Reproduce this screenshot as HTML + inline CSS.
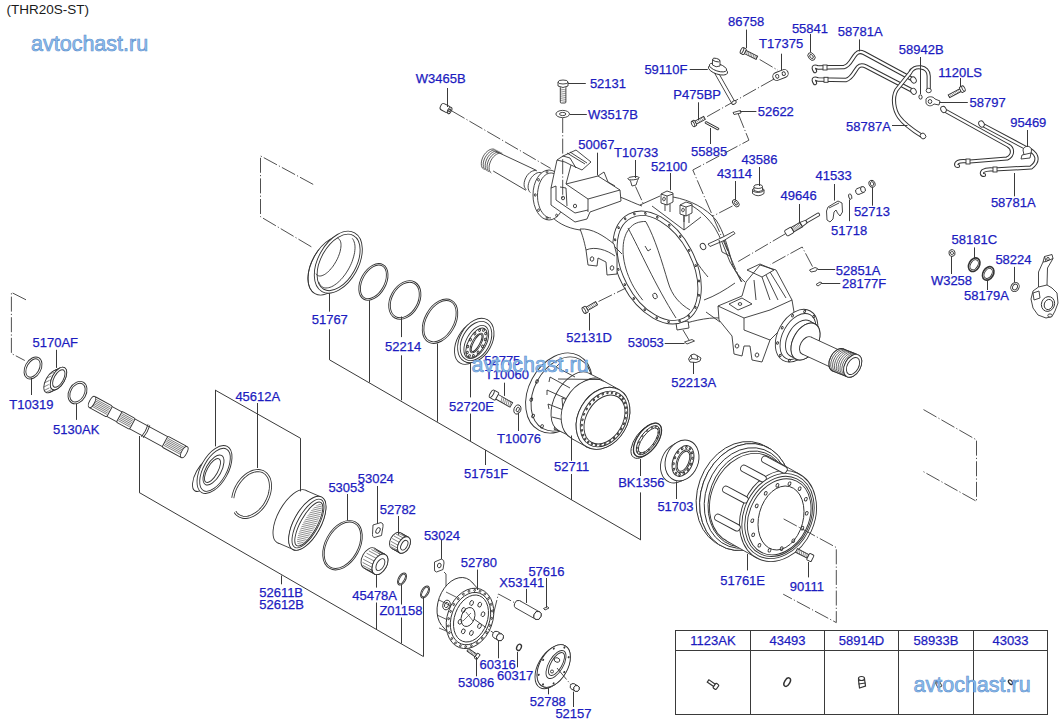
<!DOCTYPE html>
<html><head><meta charset="utf-8"><style>
html,body{margin:0;padding:0;background:#fff;width:1063px;height:727px;overflow:hidden}
svg{display:block}
.t{font-family:"Liberation Sans",sans-serif;font-size:13px;fill:#1c1cc0;stroke:#1c1cc0;stroke-width:0.25px}
.w{font-family:"Liberation Sans",sans-serif;font-size:21.5px;fill:#8fc0ef;stroke:#5a8dcb;stroke-width:0.6px}
.l{stroke:#3a3a3a;stroke-width:1;fill:none}
.k{fill:none}
.kf{fill:#fff}
.d{stroke:#3c3c3c;stroke-width:0.9;fill:none;stroke-dasharray:15 2.2 1.2 2.2}
</style></head><body>
<svg width="1063" height="727" viewBox="0 0 1063 727">
<rect width="1063" height="727" fill="#fff"/>
<text x="6.5" y="14.2" style="font-family:'Liberation Sans',sans-serif;font-size:13.5px;fill:#1a1a1a">(THR20S-ST)</text>

<g stroke="#333" stroke-width="0.9">
<path class="d" d="M451.6,110.8 L550.7,168.4" />
<path class="kf" d="M636,208 C660,192 690,192 705,200 C720,210 728,228 732,250 L738,262 L760,262 L790,300 L800,330 L770,362 L700,330 L680,330 L640,318 Z" stroke="none"/>
<path class="k" d="M640,205 L660,196 M673,197 C690,200 706,208 716,220 C724,232 728,248 733,266" />
<path class="k" d="M689,204 C700,210 709,219 715,228 C721,238 725,250 730,262 L742,282" />
<path class="k" d="M690,251 C696,262 702,270 708,277" />
<path class="k" d="M652,206 L684,230 L701,217" />
<path class="k" d="M684,230 L684,214" />
<path class="kf" d="M661,194 l6,-3 l6,2 l0,9 l-6,3 l-6,-2 Z" />
<path class="k" d="M661,194 l6,2 l6,-2 M667,196 l0,9" />
<ellipse class="k" cx="664.0" cy="199.0" rx="1.28" ry="1.81" transform="rotate(10 664.0 199.0)" />
<path class="k" d="M670,204 l0,8 M665,204 l0,7" />
<path class="kf" d="M680,205 l6,-3 l6,2 l0,9 l-6,3 l-6,-2 Z" />
<path class="k" d="M680,205 l6,2 l6,-2 M686,207 l0,9" />
<ellipse class="k" cx="683.0" cy="210.0" rx="1.28" ry="1.81" transform="rotate(10 683.0 210.0)" />
<path class="k" d="M689,215 l0,8 M684,215 l0,7" />
<path class="k" d="M733,266 C736,272 740,278 745,282" />
<path class="k" d="M704,300 C715,296 725,290 735,283" />
<path class="k" d="M706,312 L720,322" />
<path class="k" d="M676,326 C690,322 705,317 722,318" />
<path class="kf" d="M676,323 L688,321 L689,328 L677,330 Z" />
<ellipse class="kf" cx="657.0" cy="267.5" rx="38.50" ry="60.50" transform="rotate(-28 657.0 267.5)" />
<ellipse class="k" cx="657.5" cy="268.0" rx="34.50" ry="56.50" transform="rotate(-28 657.5 268.0)" />
<ellipse class="k" cx="689.2" cy="250.4" rx="0.70" ry="1.00" transform="rotate(-28 689.2 250.4)"/><ellipse class="k" cx="695.7" cy="265.6" rx="0.70" ry="1.00" transform="rotate(-28 695.7 265.6)"/><ellipse class="k" cx="699.0" cy="281.0" rx="0.70" ry="1.00" transform="rotate(-28 699.0 281.0)"/><ellipse class="k" cx="698.9" cy="295.3" rx="0.70" ry="1.00" transform="rotate(-28 698.9 295.3)"/><ellipse class="k" cx="695.4" cy="307.4" rx="0.70" ry="1.00" transform="rotate(-28 695.4 307.4)"/><ellipse class="k" cx="688.8" cy="316.2" rx="0.70" ry="1.00" transform="rotate(-28 688.8 316.2)"/><ellipse class="k" cx="679.6" cy="321.1" rx="0.70" ry="1.00" transform="rotate(-28 679.6 321.1)"/><ellipse class="k" cx="668.6" cy="321.6" rx="0.70" ry="1.00" transform="rotate(-28 668.6 321.6)"/><ellipse class="k" cx="656.7" cy="317.8" rx="0.70" ry="1.00" transform="rotate(-28 656.7 317.8)"/><ellipse class="k" cx="644.7" cy="309.8" rx="0.70" ry="1.00" transform="rotate(-28 644.7 309.8)"/><ellipse class="k" cx="633.8" cy="298.5" rx="0.70" ry="1.00" transform="rotate(-28 633.8 298.5)"/><ellipse class="k" cx="624.8" cy="284.6" rx="0.70" ry="1.00" transform="rotate(-28 624.8 284.6)"/><ellipse class="k" cx="618.3" cy="269.4" rx="0.70" ry="1.00" transform="rotate(-28 618.3 269.4)"/><ellipse class="k" cx="615.0" cy="254.0" rx="0.70" ry="1.00" transform="rotate(-28 615.0 254.0)"/><ellipse class="k" cx="615.1" cy="239.7" rx="0.70" ry="1.00" transform="rotate(-28 615.1 239.7)"/><ellipse class="k" cx="618.6" cy="227.6" rx="0.70" ry="1.00" transform="rotate(-28 618.6 227.6)"/><ellipse class="k" cx="625.2" cy="218.8" rx="0.70" ry="1.00" transform="rotate(-28 625.2 218.8)"/><ellipse class="k" cx="634.4" cy="213.9" rx="0.70" ry="1.00" transform="rotate(-28 634.4 213.9)"/><ellipse class="k" cx="645.4" cy="213.4" rx="0.70" ry="1.00" transform="rotate(-28 645.4 213.4)"/><ellipse class="k" cx="657.3" cy="217.2" rx="0.70" ry="1.00" transform="rotate(-28 657.3 217.2)"/><ellipse class="k" cx="669.3" cy="225.2" rx="0.70" ry="1.00" transform="rotate(-28 669.3 225.2)"/><ellipse class="k" cx="680.2" cy="236.5" rx="0.70" ry="1.00" transform="rotate(-28 680.2 236.5)"/>
<path class="k" d="M642.8,300.2 L640.4,297.1 L638.1,294.0 L635.9,290.6 L633.8,287.2 L631.9,283.7 L630.2,280.1 L628.6,276.4 L627.2,272.7 L626.0,269.0 L625.0,265.3 L624.2,261.7 L623.6,258.0 L623.2,254.5 L623.0,251.0 L623.1,247.7 L623.3,244.5 L623.7,241.4 L624.4,238.5 L625.3,235.8 L626.3,233.3 L627.6,231.0 L629.0,228.9 L630.6,227.1 L632.4,225.5 L634.3,224.1 L636.4,223.1 L638.6,222.3 L641.0,221.8 L643.4,221.5 L646.0,221.5" />
<path class="k" d="M628,228 C640,250 655,285 676,318" />
<path class="k" d="M646,222 C655,238 662,262 668,282 C672,296 680,304 690,310" />
<ellipse class="k" cx="655.0" cy="296.0" rx="2.09" ry="2.88" transform="rotate(-20 655.0 296.0)" />
<path class="k" d="M645,246 l3,5 l3,-2" />
<path class="k" d="M549,214 C556,222 566,228 580,230 L612,244 L622,254" />
<path class="k" d="M620,197 C628,200 636,204 642,206" />
<path class="kf" d="M580,229 C592,228 604,236 614,244 L617,256 L617,274 L607,275 L606,262 L598,258 L597,266 L588,265 L586,250 C584,240 582,234 580,229 Z" />
<path class="k" d="M586,250 C595,246 607,250 615,256" />
<ellipse class="k" cx="592.0" cy="259.0" rx="1.79" ry="2.21" transform="rotate(10 592.0 259.0)" />
<ellipse class="k" cx="612.0" cy="268.0" rx="1.79" ry="2.21" transform="rotate(10 612.0 268.0)" />
<path class="kf" d="M489,150 L537,171 L548,190 L540,212 L527,192 L492,171 Z" stroke="none"/>
<ellipse class="kf" cx="549.0" cy="195.0" rx="16.00" ry="25.00" transform="rotate(0 549.0 195.0)" />
<path class="k" d="M551.0,218.0 L549.4,217.8 L547.7,217.3 L546.2,216.5 L544.7,215.4 L543.3,213.9 L542.0,212.2 L540.8,210.3 L539.8,208.1 L539.0,205.7 L538.3,203.2 L537.8,200.6 L537.6,197.9 L537.5,195.1 L537.6,192.4 L538.0,189.7 L538.5,187.1 L539.2,184.6 L540.1,182.3 L541.1,180.2 L542.3,178.3 L543.6,176.6 L545.1,175.3 L546.6,174.2 L548.2,173.5 L549.8,173.1 L551.5,173.0 L553.1,173.3 L554.7,173.9 L556.3,174.8 L557.8,176.0" />
<ellipse class="k" cx="547.0" cy="218.2" rx="0.91" ry="1.30" transform="rotate(0 547.0 218.2)"/><ellipse class="k" cx="538.5" cy="210.2" rx="0.91" ry="1.30" transform="rotate(0 538.5 210.2)"/><ellipse class="k" cx="535.2" cy="195.0" rx="0.91" ry="1.30" transform="rotate(0 535.2 195.0)"/><ellipse class="k" cx="538.5" cy="179.8" rx="0.91" ry="1.30" transform="rotate(0 538.5 179.8)"/><ellipse class="k" cx="547.0" cy="171.8" rx="0.91" ry="1.30" transform="rotate(0 547.0 171.8)"/><ellipse class="k" cx="556.6" cy="215.4" rx="0.91" ry="1.30" transform="rotate(0 556.6 215.4)"/>
<path class="k" d="M495.5,151.2 L536.5,170.4 M493.2,171 L526,190.3" />
<path class="k" d="M483.5,169.1 L482.5,168.2 L481.8,166.9 L481.4,165.4 L481.3,163.7 L481.4,161.9 L481.8,160.0 L482.5,158.0 L483.4,156.1 L484.5,154.3 L485.8,152.7 L487.2,151.4 L488.7,150.3 L490.2,149.5 L491.7,149.1 L493.2,149.0 L494.5,149.3 M485.4,170.1 L484.5,169.2 L483.8,167.9 L483.4,166.4 L483.2,164.7 L483.3,162.9 L483.7,161.0 L484.4,159.0 L485.3,157.1 L486.5,155.3 L487.7,153.7 L489.2,152.4 L490.7,151.3 L492.2,150.5 L493.7,150.1 L495.1,150.0 L496.4,150.3 M487.4,171.1 L486.4,170.2 L485.7,168.9 L485.3,167.4 L485.2,165.7 L485.3,163.9 L485.7,162.0 L486.4,160.0 L487.3,158.1 L488.4,156.3 L489.7,154.7 L491.1,153.4 L492.6,152.3 L494.1,151.5 L495.6,151.1 L497.1,151.0 L498.4,151.3 M489.3,172.1 L488.4,171.2 L487.7,169.9 L487.3,168.4 L487.1,166.7 L487.2,164.9 L487.6,163.0 L488.3,161.0 L489.2,159.1 L490.4,157.3 L491.6,155.7 L493.1,154.4 L494.6,153.3 L496.1,152.5 L497.6,152.1 L499.0,152.0 L500.3,152.3 M491.3,173.1 L490.3,172.2 L489.6,170.9 L489.2,169.4 L489.1,167.7 L489.2,165.9 L489.6,164.0 L490.3,162.0 L491.2,160.1 L492.3,158.3 L493.6,156.7 L495.0,155.4 L496.5,154.3 L498.0,153.5 L499.5,153.1 L501.0,153.0 L502.3,153.3" stroke-width="0.8"/>
<path class="k" d="M526.3,189.6 L525.4,188.7 L524.7,187.5 L524.2,186.1 L524.1,184.5 L524.2,182.7 L524.6,180.9 L525.2,179.0 L526.1,177.2 L527.1,175.5 L528.4,174.0 L529.7,172.7 L531.2,171.7 L532.6,171.0 L534.1,170.6 L535.4,170.5 L536.7,170.8" />
<path class="k" d="M530.4,192.6 L529.5,191.7 L528.8,190.4 L528.3,188.9 L528.1,187.2 L528.2,185.3 L528.6,183.4 L529.3,181.4 L530.2,179.5 L531.3,177.7 L532.6,176.1 L534.1,174.8 L535.6,173.7 L537.1,172.9 L538.7,172.5 L540.1,172.5 L541.5,172.8" />
<path class="kf" d="M551,188 L557,160 L563,156 L576,150 L591,162 L582,170 L571,165 L566,184 L598,176 L620,190 L621,201 L590,212 L587,219 L575,222 L551,205 Z" />
<path class="k" d="M566,184 L588,199 L620,190 M588,199 L588,212 M557,160 L565,162 L571,165 M563,156 L570,158 L576,168 M567,153 L585,164 M570,152 L587,163" />
<path class="k" d="M551,188 L556,186 L556,200 L575,213 L588,210" />
<path class="k" d="M560,187 L566,188 L567,206" />
<ellipse class="k" cx="563.0" cy="198.0" rx="1.60" ry="1.80" transform="rotate(0 563.0 198.0)" />
<ellipse class="k" cx="575.0" cy="206.0" rx="1.60" ry="1.80" transform="rotate(0 575.0 206.0)" />
<path class="k" d="M598,176 L604,172 L608,182 L615,186" />
<path class="kf" d="M718,306 L742,296 L746,282 L760,265 L776,270 L792,300 L795,318 L782,328 L770,340 L762,362 L752,360 L750,346 L744,346 L742,356 L734,354 L732,336 L719,320 Z" />
<path class="k" d="M747,270 L760,264 L774,270 L762,277 Z M762,277 L770,300 M766,275 L778,300 M770,272 L786,298 M754,280 L756,300" />
<path class="k" d="M718,306 L744,318 L770,310 L792,300 M744,318 L744,330 L770,340" />
<path class="k" d="M729,304 L742,298 L752,304 L738,310 Z" />
<ellipse class="k" cx="740.0" cy="304.0" rx="1.80" ry="1.40" transform="rotate(0 740.0 304.0)" />
<ellipse class="k" cx="737.0" cy="346.0" rx="1.79" ry="2.01" transform="rotate(10 737.0 346.0)" />
<ellipse class="k" cx="757.0" cy="355.0" rx="1.79" ry="2.01" transform="rotate(10 757.0 355.0)" />
<ellipse class="kf" cx="796.6" cy="335.7" rx="18.66" ry="28.24" transform="rotate(29 796.6 335.7)" />
<ellipse class="k" cx="798.0" cy="336.5" rx="15.27" ry="24.90" transform="rotate(29 798.0 336.5)" />
<ellipse class="k" cx="811.8" cy="344.2" rx="0.91" ry="1.30" transform="rotate(29 811.8 344.2)"/><ellipse class="k" cx="801.4" cy="356.3" rx="0.91" ry="1.30" transform="rotate(29 801.4 356.3)"/><ellipse class="k" cx="789.3" cy="360.6" rx="0.91" ry="1.30" transform="rotate(29 789.3 360.6)"/><ellipse class="k" cx="780.2" cy="355.5" rx="0.91" ry="1.30" transform="rotate(29 780.2 355.5)"/><ellipse class="k" cx="777.5" cy="343.0" rx="0.91" ry="1.30" transform="rotate(29 777.5 343.0)"/><ellipse class="k" cx="782.2" cy="327.8" rx="0.91" ry="1.30" transform="rotate(29 782.2 327.8)"/><ellipse class="k" cx="792.6" cy="315.7" rx="0.91" ry="1.30" transform="rotate(29 792.6 315.7)"/><ellipse class="k" cx="804.7" cy="311.4" rx="0.91" ry="1.30" transform="rotate(29 804.7 311.4)"/><ellipse class="k" cx="813.8" cy="316.5" rx="0.91" ry="1.30" transform="rotate(29 813.8 316.5)"/><ellipse class="k" cx="816.5" cy="329.0" rx="0.91" ry="1.30" transform="rotate(29 816.5 329.0)"/>
<ellipse class="kf" cx="800.0" cy="338.5" rx="12.32" ry="20.02" transform="rotate(29 800.0 338.5)"/><path d="M790.3,356.0 L795.8,359.0 L815.2,324.0 L809.7,321.0 Z" fill="#fff" stroke="none"/><path class="k" d="M790.3,356.0 L795.8,359.0 M815.2,324.0 L809.7,321.0"/><ellipse class="kf" cx="805.5" cy="341.5" rx="12.32" ry="20.02" transform="rotate(29 805.5 341.5)"/>
<ellipse class="kf" cx="805.5" cy="341.5" rx="12.32" ry="20.02" transform="rotate(29 805.5 341.5)" />
<ellipse class="kf" cx="806.5" cy="345.5" rx="6.00" ry="9.60" transform="rotate(29 806.5 345.5)"/><path d="M802.1,354.0 L835.6,369.5 L844.4,352.5 L810.9,337.0 Z" fill="#fff" stroke="none"/><path class="k" d="M802.1,354.0 L835.6,369.5 M844.4,352.5 L810.9,337.0"/><ellipse class="kf" cx="840.0" cy="361.0" rx="6.00" ry="9.60" transform="rotate(29 840.0 361.0)"/>
<ellipse class="kf" cx="838.0" cy="360.0" rx="7.90" ry="12.30" transform="rotate(29 838.0 360.0)"/><path d="M832.7,371.1 L847.4,376.9 L858.0,354.7 L843.3,348.9 Z" fill="#fff" stroke="none"/><path class="k" d="M832.7,371.1 L847.4,376.9 M858.0,354.7 L843.3,348.9"/><ellipse class="kf" cx="852.7" cy="365.8" rx="7.90" ry="12.30" transform="rotate(29 852.7 365.8)"/>
<path class="k" d="M833.3,371.3 L831.7,370.6 L830.5,369.4 L829.5,367.8 L829.0,365.8 L828.9,363.5 L829.2,361.1 L830.0,358.6 L831.1,356.2 L832.5,353.9 L834.3,352.0 L836.1,350.4 L838.1,349.3 L840.1,348.7 L842.0,348.6 L843.7,349.1 L845.1,350.1 M835.2,372.0 L833.6,371.3 L832.3,370.1 L831.4,368.5 L830.8,366.5 L830.7,364.2 L831.1,361.8 L831.8,359.3 L832.9,356.9 L834.4,354.7 L836.1,352.7 L838.0,351.1 L840.0,350.0 L841.9,349.4 L843.8,349.3 L845.5,349.8 L846.9,350.8 M837.0,372.7 L835.4,372.0 L834.2,370.9 L833.2,369.2 L832.7,367.2 L832.6,365.0 L832.9,362.5 L833.7,360.0 L834.8,357.6 L836.2,355.4 L838.0,353.4 L839.8,351.9 L841.8,350.8 L843.8,350.1 L845.7,350.1 L847.4,350.5 L848.8,351.5 M838.9,373.4 L837.3,372.8 L836.0,371.6 L835.1,370.0 L834.5,368.0 L834.4,365.7 L834.8,363.3 L835.5,360.8 L836.6,358.4 L838.1,356.1 L839.8,354.2 L841.7,352.6 L843.7,351.5 L845.6,350.9 L847.5,350.8 L849.2,351.3 L850.6,352.3 M840.7,374.2 L839.1,373.5 L837.9,372.3 L836.9,370.7 L836.4,368.7 L836.3,366.4 L836.6,364.0 L837.4,361.5 L838.5,359.1 L839.9,356.9 L841.7,354.9 L843.5,353.3 L845.5,352.2 L847.5,351.6 L849.4,351.5 L851.1,352.0 L852.5,353.0 M842.6,374.9 L841.0,374.2 L839.7,373.0 L838.8,371.4 L838.2,369.4 L838.1,367.2 L838.5,364.7 L839.2,362.2 L840.3,359.8 L841.8,357.6 L843.5,355.6 L845.4,354.1 L847.4,352.9 L849.3,352.3 L851.2,352.3 L852.9,352.7 L854.3,353.7 M844.4,375.6 L842.8,375.0 L841.6,373.8 L840.6,372.2 L840.1,370.2 L840.0,367.9 L840.3,365.5 L841.1,363.0 L842.2,360.6 L843.6,358.3 L845.4,356.4 L847.2,354.8 L849.2,353.7 L851.2,353.1 L853.1,353.0 L854.8,353.5 L856.2,354.5 M846.3,376.4 L844.7,375.7 L843.4,374.5 L842.5,372.9 L841.9,370.9 L841.8,368.6 L842.2,366.2 L842.9,363.7 L844.0,361.3 L845.5,359.0 L847.2,357.1 L849.1,355.5 L851.1,354.4 L853.0,353.8 L854.9,353.7 L856.6,354.2 L858.0,355.2" stroke-width="0.75"/>
<ellipse class="kf" cx="852.7" cy="365.8" rx="7.90" ry="12.30" transform="rotate(29 852.7 365.8)" />
<ellipse class="k" cx="853.0" cy="366.0" rx="5.60" ry="9.20" transform="rotate(29 853.0 366.0)" /><path class="d" d="M26,299.8 L11.4,292.4 L11.4,353.5 L24.8,360.5" />
<ellipse class="k" cx="33.0" cy="368.0" rx="7.95" ry="11.78" transform="rotate(29 33.0 368.0)" /><ellipse class="k" cx="33.0" cy="368.0" rx="6.11" ry="9.96" transform="rotate(29 33.0 368.0)" />
<ellipse class="kf" cx="52.0" cy="381.5" rx="6.36" ry="12.43" transform="rotate(29 52.0 381.5)"/><path d="M50.3,392.2 L56.8,389.2 L60.2,367.8 L53.7,370.8 Z" fill="#fff" stroke="none"/><path class="k" d="M50.3,392.2 L56.8,389.2 M60.2,367.8 L53.7,370.8"/><ellipse class="kf" cx="58.5" cy="378.5" rx="6.36" ry="12.43" transform="rotate(29 58.5 378.5)"/>
<path class="k" stroke-width="0.6" d="M57.6,384.6l5,-2.5 M54.8,388.5l5,-2.5 M51.7,391.4l5,-2.5 M48.6,392.7l5,-2.5 M46.0,392.4l5,-2.5 M44.3,390.4l5,-2.5 M43.8,387.0l5,-2.5 M44.6,382.8l5,-2.5 M46.4,378.4l5,-2.5 M49.2,374.5l5,-2.5 M52.3,371.6l5,-2.5 M55.4,370.3l5,-2.5 M58.0,370.6l5,-2.5 M59.7,372.6l5,-2.5 M60.2,376.0l5,-2.5 M59.4,380.2l5,-2.5"/>
<ellipse class="kf" cx="58.5" cy="378.5" rx="6.36" ry="12.43" transform="rotate(29 58.5 378.5)" />
<ellipse class="k" cx="58.8" cy="378.5" rx="4.60" ry="9.73" transform="rotate(29 58.8 378.5)" />
<ellipse class="k" cx="77.5" cy="392.6" rx="8.64" ry="11.88" transform="rotate(29 77.5 392.6)" /><ellipse class="k" cx="77.5" cy="392.6" rx="6.81" ry="10.06" transform="rotate(29 77.5 392.6)" />
<g transform="translate(92,402) rotate(28.5)"><rect class="kf" x="0" y="-5.6" width="105" height="11.2" rx="1"/><rect class="kf" x="0" y="-6.2" width="20" height="12.4" rx="1.5"/><path class="k" stroke-width="0.55" d="M1.0,-4.2h18 M1.0,-2.6h18 M1.0,-1.0h18 M1.0,0.6h18 M1.0,2.2h18 M1.0,3.8h18"/><rect class="kf" x="31" y="-6.2" width="15" height="12.4" rx="1.5"/><path class="k" stroke-width="0.55" d="M32.0,-4.2h13 M32.0,-2.6h13 M32.0,-1.0h13 M32.0,0.6h13 M32.0,2.2h13 M32.0,3.8h13"/><rect class="kf" x="83" y="-6.2" width="22" height="12.4" rx="1.5"/><path class="k" stroke-width="0.55" d="M84.0,-4.2h20 M84.0,-2.6h20 M84.0,-1.0h20 M84.0,0.6h20 M84.0,2.2h20 M84.0,3.8h20"/><ellipse class="kf" cx="0" cy="0" rx="2.6" ry="6.2"/><ellipse class="kf" cx="105" cy="0" rx="2.6" ry="6.2"/><path class="k" d="M60,-7 q1.5,7 0,14 M62,-7 q1.5,7 0,14"/></g>
<ellipse class="kf" cx="204.0" cy="475.0" rx="8.38" ry="18.29" transform="rotate(29 204.0 475.0)"/><path d="M201.3,490.2 L208.3,486.2 L213.7,455.8 L206.7,459.8 Z" fill="#fff" stroke="none"/><path class="k" d="M201.3,490.2 L208.3,486.2 M213.7,455.8 L206.7,459.8"/><ellipse class="kf" cx="211.0" cy="471.0" rx="8.38" ry="18.29" transform="rotate(29 211.0 471.0)"/>
<ellipse class="kf" cx="214.5" cy="469.5" rx="13.66" ry="26.38" transform="rotate(29 214.5 469.5)" />
<ellipse class="k" cx="215.0" cy="469.8" rx="11.53" ry="23.74" transform="rotate(29 215.0 469.8)" />
<ellipse class="k" cx="213.5" cy="470.0" rx="7.70" ry="16.61" transform="rotate(29 213.5 470.0)" />
<ellipse class="k" cx="212.5" cy="470.5" rx="5.34" ry="13.40" transform="rotate(29 212.5 470.5)" />
<path class="k" d="M232.8,498.0 L233.2,495.8 L233.7,493.6 L234.4,491.5 L235.2,489.3 L236.2,487.2 L237.3,485.2 L238.6,483.2 L239.9,481.3 L241.4,479.5 L242.9,477.9 L244.5,476.4 L246.2,475.0 L247.9,473.8 L249.7,472.8 L251.4,472.0 L253.2,471.3 L255.0,470.9 L256.7,470.7 L258.4,470.6 L260.0,470.8 L261.5,471.1 L263.0,471.7 L264.3,472.4 L265.6,473.4 L266.7,474.5 L267.7,475.8 L268.6,477.2 L269.3,478.8 L269.8,480.5 L270.2,482.4 L270.4,484.3 L270.5,486.3 L270.4,488.4 L270.1,490.6 L269.7,492.7 L269.1,494.9 L268.4,497.1 L267.5,499.2 L266.5,501.3 L265.4,503.4 L264.1,505.3 L262.7,507.2 L261.2,508.9 L259.7,510.5 L258.0,512.0 L256.4,513.3 L254.6,514.4 L252.9,515.4 L251.1,516.2 L249.3,516.8 L247.6,517.2 L245.9,517.4 L244.2,517.4 L242.6,517.2 L241.1,516.7 L239.7,516.1 L238.3,515.3 L237.1,514.4 L236.0,513.2 L235.1,511.9" stroke-width="3"/>
<path class="k" d="M232.8,498.0 L233.2,495.8 L233.7,493.6 L234.4,491.5 L235.2,489.3 L236.2,487.2 L237.3,485.2 L238.6,483.2 L239.9,481.3 L241.4,479.5 L242.9,477.9 L244.5,476.4 L246.2,475.0 L247.9,473.8 L249.7,472.8 L251.4,472.0 L253.2,471.3 L255.0,470.9 L256.7,470.7 L258.4,470.6 L260.0,470.8 L261.5,471.1 L263.0,471.7 L264.3,472.4 L265.6,473.4 L266.7,474.5 L267.7,475.8 L268.6,477.2 L269.3,478.8 L269.8,480.5 L270.2,482.4 L270.4,484.3 L270.5,486.3 L270.4,488.4 L270.1,490.6 L269.7,492.7 L269.1,494.9 L268.4,497.1 L267.5,499.2 L266.5,501.3 L265.4,503.4 L264.1,505.3 L262.7,507.2 L261.2,508.9 L259.7,510.5 L258.0,512.0 L256.4,513.3 L254.6,514.4 L252.9,515.4 L251.1,516.2 L249.3,516.8 L247.6,517.2 L245.9,517.4 L244.2,517.4 L242.6,517.2 L241.1,516.7 L239.7,516.1 L238.3,515.3 L237.1,514.4 L236.0,513.2 L235.1,511.9" stroke="#fff" stroke-width="1.3"/>
<ellipse class="kf" cx="291.5" cy="516.5" rx="13.25" ry="29.75" transform="rotate(29 291.5 516.5)"/><path d="M277.7,542.8 L293.5,549.6 L321.1,497.0 L305.3,490.2 Z" fill="#fff" stroke="none"/><path class="k" d="M277.7,542.8 L293.5,549.6 M321.1,497.0 L305.3,490.2"/><ellipse class="kf" cx="307.3" cy="523.3" rx="13.25" ry="29.75" transform="rotate(29 307.3 523.3)"/>
<ellipse class="kf" cx="307.3" cy="523.3" rx="13.47" ry="29.95" transform="rotate(29 307.3 523.3)" />
<ellipse class="k" cx="308.0" cy="523.5" rx="10.37" ry="27.18" transform="rotate(29 308.0 523.5)" />
<ellipse class="k" cx="308.8" cy="524.0" rx="8.26" ry="24.73" transform="rotate(29 308.8 524.0)" />
<clipPath id="nb"><ellipse cx="309.5" cy="524.3" rx="6.26" ry="23.18" transform="rotate(29 309.5 524.3)"/></clipPath>
<path class="k" stroke-width="0.55" clip-path="url(#nb)" d="M296.0,499.0 l26,6 M296.0,501.0 l26,6 M296.0,503.0 l26,6 M296.0,505.0 l26,6 M296.0,507.0 l26,6 M296.0,509.0 l26,6 M296.0,511.0 l26,6 M296.0,513.0 l26,6 M296.0,515.0 l26,6 M296.0,517.0 l26,6 M296.0,519.0 l26,6 M296.0,521.0 l26,6 M296.0,523.0 l26,6 M296.0,525.0 l26,6 M296.0,527.0 l26,6 M296.0,529.0 l26,6 M296.0,531.0 l26,6 M296.0,533.0 l26,6 M296.0,535.0 l26,6 M296.0,537.0 l26,6 M296.0,539.0 l26,6 M296.0,541.0 l26,6 M296.0,543.0 l26,6"/>
<ellipse class="k" cx="342.5" cy="545.2" rx="17.19" ry="26.59" transform="rotate(29 342.5 545.2)" /><ellipse class="k" cx="342.5" cy="545.2" rx="15.64" ry="25.07" transform="rotate(29 342.5 545.2)" />
<path class="kf" d="M373,525 l8,-2.5 q3,1 2,4 l-1.5,9 l-7.5,2 q-2,-1 -1.5,-3 z" />
<ellipse class="k" cx="378.0" cy="530.5" rx="1.87" ry="3.03" transform="rotate(29 378.0 530.5)" />
<ellipse class="kf" cx="396.0" cy="540.5" rx="5.52" ry="8.98" transform="rotate(29 396.0 540.5)"/><path d="M391.6,548.4 L399.6,552.9 L408.4,537.1 L400.4,532.6 Z" fill="#fff" stroke="none"/><path class="k" d="M391.6,548.4 L399.6,552.9 M408.4,537.1 L400.4,532.6"/><ellipse class="kf" cx="404.0" cy="545.0" rx="5.52" ry="8.98" transform="rotate(29 404.0 545.0)"/>
<path class="k" stroke-width="0.6" d="M408.8,547.7l-7,-3.8 M407.0,550.2l-7,-3.8 M404.9,552.1l-7,-3.8 M402.6,553.1l-7,-3.8 M400.5,553.2l-7,-3.8 M398.9,552.3l-7,-3.8 M397.8,550.5l-7,-3.8 M397.5,548.0l-7,-3.8 M398.0,545.2l-7,-3.8 M399.2,542.3l-7,-3.8 M401.0,539.8l-7,-3.8 M403.1,537.9l-7,-3.8 M405.4,536.9l-7,-3.8 M407.5,536.8l-7,-3.8 M409.1,537.7l-7,-3.8 M410.2,539.5l-7,-3.8 M410.5,542.0l-7,-3.8 M410.0,544.8l-7,-3.8"/>
<ellipse class="kf" cx="404.0" cy="545.0" rx="5.52" ry="8.98" transform="rotate(29 404.0 545.0)" />
<ellipse class="k" cx="404.3" cy="545.2" rx="2.91" ry="5.25" transform="rotate(29 404.3 545.2)" />
<ellipse class="kf" cx="369.0" cy="558.0" rx="6.73" ry="11.17" transform="rotate(29 369.0 558.0)"/><path d="M363.6,567.8 L374.6,574.1 L385.4,554.5 L374.4,548.2 Z" fill="#fff" stroke="none"/><path class="k" d="M363.6,567.8 L374.6,574.1 M385.4,554.5 L374.4,548.2"/><ellipse class="kf" cx="380.0" cy="564.3" rx="6.73" ry="11.17" transform="rotate(29 380.0 564.3)"/>
<path class="k" stroke-width="0.6" d="M385.9,567.6l-9.5,-5 M383.9,570.4l-9.5,-5 M381.6,572.7l-9.5,-5 M379.1,574.1l-9.5,-5 M376.7,574.6l-9.5,-5 M374.6,574.1l-9.5,-5 M373.0,572.6l-9.5,-5 M372.2,570.3l-9.5,-5 M372.1,567.4l-9.5,-5 M372.7,564.2l-9.5,-5 M374.1,561.0l-9.5,-5 M376.1,558.2l-9.5,-5 M378.4,555.9l-9.5,-5 M380.9,554.5l-9.5,-5 M383.3,554.0l-9.5,-5 M385.4,554.5l-9.5,-5 M387.0,556.0l-9.5,-5 M387.8,558.3l-9.5,-5 M387.9,561.2l-9.5,-5 M387.3,564.4l-9.5,-5"/>
<ellipse class="kf" cx="380.0" cy="564.3" rx="6.73" ry="11.17" transform="rotate(29 380.0 564.3)" />
<ellipse class="k" cx="380.4" cy="564.6" rx="3.64" ry="6.56" transform="rotate(29 380.4 564.6)" />
<ellipse class="k" cx="402.0" cy="579.0" rx="3.64" ry="6.56" transform="rotate(29 402.0 579.0)" /><ellipse class="k" cx="402.0" cy="579.0" rx="2.35" ry="5.33" transform="rotate(29 402.0 579.0)" />
<ellipse class="k" cx="425.0" cy="592.0" rx="3.64" ry="6.56" transform="rotate(29 425.0 592.0)" /><ellipse class="k" cx="425.0" cy="592.0" rx="2.35" ry="5.33" transform="rotate(29 425.0 592.0)" /><path class="d" d="M313.2,184.4 L260.5,155.9 L260.5,216.7 L312.7,247.6" />
<ellipse class="kf" cx="330.5" cy="265.5" rx="18.57" ry="32.12" transform="rotate(29 330.5 265.5)"/><path d="M327.4,293.5 L335.2,290.2 L341.4,234.2 L333.6,237.5 Z" fill="#fff" stroke="none"/><path class="k" d="M327.4,293.5 L335.2,290.2 M341.4,234.2 L333.6,237.5"/><ellipse class="kf" cx="338.3" cy="262.2" rx="18.57" ry="32.12" transform="rotate(29 338.3 262.2)"/>
<ellipse class="kf" cx="338.3" cy="262.2" rx="20.13" ry="33.64" transform="rotate(29 338.3 262.2)" />
<ellipse class="k" cx="338.6" cy="262.4" rx="17.74" ry="30.71" transform="rotate(29 338.6 262.4)" />
<path class="k" d="M337.5,238.2 L338.2,238.5 L338.9,239.0 L339.5,239.6 L340.0,240.3 L340.4,241.2 L340.7,242.1 L340.9,243.2 L341.0,244.4 L341.0,245.7 L340.9,247.1 L340.7,248.5 L340.4,250.0 L340.1,251.6 L339.6,253.2 L339.0,254.9 L338.4,256.5 L337.7,258.2 L336.9,259.8 L336.0,261.4 L335.1,263.0 L334.1,264.6 L333.1,266.1 L332.0,267.5 L330.9,268.8 L329.8,270.1 L328.7,271.2 L327.6,272.3 L326.4,273.2 L325.3,274.0 L324.2,274.7 L323.1,275.2 L322.1,275.6 L321.1,275.9 L320.2,276.0 L319.3,276.0 L318.5,275.8 L317.8,275.5 L317.1,275.0 L316.5,274.4 L316.0,273.7" />
<path class="k" d="M352.3,238.4 L353.1,239.5 L353.7,240.7 L354.2,242.0 L354.6,243.5 L354.9,245.1 L355.0,246.8 L355.0,248.7 L354.8,250.6 L354.6,252.7 L354.1,254.8 L353.6,256.9 L352.9,259.1 L352.2,261.3 L351.3,263.5 L350.3,265.7 L349.2,267.9 L348.0,270.0 L346.7,272.1 L345.4,274.1 L343.9,276.0 L342.5,277.8 L341.0,279.5 L339.4,281.1 L337.9,282.5 L336.3,283.8 L334.7,284.9 L333.2,285.9 L331.6,286.7 L330.1,287.3 L328.7,287.7 L327.3,287.9 L325.9,288.0 L324.7,287.9 L323.5,287.5 L322.5,287.0 L321.5,286.3 L320.6,285.5 L319.9,284.4 L319.2,283.2 L318.7,281.9" />
<path class="k" d="M313.6,292.7 L312.3,291.6 L311.3,290.3 L310.3,288.8 L309.5,287.2 L308.9,285.3 L308.4,283.3 L308.1,281.2 L308.0,279.0 L308.0,276.7 L308.3,274.2 L308.6,271.8 L309.2,269.2 L309.9,266.6 L310.8,264.1 L311.8,261.5 L313.0,259.0 L314.3,256.5 L315.7,254.1 L317.2,251.8 L318.8,249.5" />
<ellipse class="k" cx="373.4" cy="281.9" rx="12.55" ry="19.85" transform="rotate(29 373.4 281.9)" /><ellipse class="k" cx="373.4" cy="281.9" rx="10.90" ry="18.23" transform="rotate(29 373.4 281.9)" />
<ellipse class="k" cx="404.8" cy="300.0" rx="14.46" ry="20.56" transform="rotate(29 404.8 300.0)" /><ellipse class="k" cx="404.8" cy="300.0" rx="12.83" ry="18.95" transform="rotate(29 404.8 300.0)" />
<ellipse class="k" cx="440.0" cy="321.2" rx="15.37" ry="23.91" transform="rotate(29 440.0 321.2)" /><ellipse class="k" cx="440.0" cy="321.2" rx="13.72" ry="22.29" transform="rotate(29 440.0 321.2)" />
<ellipse class="kf" cx="471.5" cy="342.8" rx="14.57" ry="23.22" transform="rotate(29 471.5 342.8)"/><path d="M472.3,362.3 L476.6,360.0 L475.0,321.0 L470.7,323.3 Z" fill="#fff" stroke="none"/><path class="k" d="M472.3,362.3 L476.6,360.0 M475.0,321.0 L470.7,323.3"/><ellipse class="kf" cx="475.8" cy="340.5" rx="14.57" ry="23.22" transform="rotate(29 475.8 340.5)"/>
<ellipse class="kf" cx="475.8" cy="340.5" rx="16.11" ry="23.76" transform="rotate(29 475.8 340.5)" />
<ellipse class="k" cx="476.0" cy="341.0" rx="13.78" ry="21.07" transform="rotate(29 476.0 341.0)" />
<ellipse class="k" cx="476.3" cy="342.0" rx="9.99" ry="18.15" transform="rotate(29 476.3 342.0)" />
<ellipse class="k" cx="476.5" cy="343.0" rx="8.09" ry="16.55" transform="rotate(29 476.5 343.0)" />
<ellipse class="k" cx="482.5" cy="346.3" rx="0.91" ry="1.30" transform="rotate(29 482.5 346.3)"/><ellipse class="k" cx="478.1" cy="352.3" rx="0.91" ry="1.30" transform="rotate(29 478.1 352.3)"/><ellipse class="k" cx="473.3" cy="355.8" rx="0.91" ry="1.30" transform="rotate(29 473.3 355.8)"/><ellipse class="k" cx="469.4" cy="355.9" rx="0.91" ry="1.30" transform="rotate(29 469.4 355.9)"/><ellipse class="k" cx="467.3" cy="352.5" rx="0.91" ry="1.30" transform="rotate(29 467.3 352.5)"/><ellipse class="k" cx="467.8" cy="346.6" rx="0.91" ry="1.30" transform="rotate(29 467.8 346.6)"/><ellipse class="k" cx="470.5" cy="339.7" rx="0.91" ry="1.30" transform="rotate(29 470.5 339.7)"/><ellipse class="k" cx="474.9" cy="333.7" rx="0.91" ry="1.30" transform="rotate(29 474.9 333.7)"/><ellipse class="k" cx="479.7" cy="330.2" rx="0.91" ry="1.30" transform="rotate(29 479.7 330.2)"/><ellipse class="k" cx="483.6" cy="330.1" rx="0.91" ry="1.30" transform="rotate(29 483.6 330.1)"/><ellipse class="k" cx="485.7" cy="333.5" rx="0.91" ry="1.30" transform="rotate(29 485.7 333.5)"/><ellipse class="k" cx="485.2" cy="339.4" rx="0.91" ry="1.30" transform="rotate(29 485.2 339.4)"/>
<ellipse class="k" cx="476.6" cy="343.0" rx="4.41" ry="11.05" transform="rotate(29 476.6 343.0)" />
<ellipse class="k" cx="476.6" cy="343.0" rx="3.05" ry="9.69" transform="rotate(29 476.6 343.0)" />
<g transform="translate(494,395) rotate(30)"><rect class="kf" x="3" y="-2.6" width="17" height="5.2"/><path class="k" stroke-width="0.5" d="M8,-2.6 l1.5,5.2 M10,-2.6 l1.5,5.2 M12,-2.6 l1.5,5.2 M14,-2.6 l1.5,5.2 M16,-2.6 l1.5,5.2 M18,-2.6 l1.5,5.2"/><rect class="kf" x="-2.5" y="-4.3" width="6" height="8.6" rx="1.2"/><ellipse class="kf" cx="-2.5" cy="0" rx="1.6" ry="4.3"/></g>
<ellipse class="kf" cx="517.4" cy="409.5" rx="3.42" ry="4.73" transform="rotate(20 517.4 409.5)" />
<ellipse class="k" cx="517.8" cy="409.5" rx="1.46" ry="2.39" transform="rotate(20 517.8 409.5)" />
<ellipse class="kf" cx="559.0" cy="393.0" rx="30.41" ry="42.32" transform="rotate(28 559.0 393.0)" />
<ellipse class="k" cx="561.5" cy="394.0" rx="27.52" ry="39.27" transform="rotate(28 561.5 394.0)" />
<ellipse class="k" cx="555.6" cy="428.0" rx="1.26" ry="1.80" transform="rotate(28 555.6 428.0)"/><ellipse class="k" cx="542.0" cy="426.4" rx="1.26" ry="1.80" transform="rotate(28 542.0 426.4)"/><ellipse class="k" cx="533.1" cy="416.0" rx="1.26" ry="1.80" transform="rotate(28 533.1 416.0)"/><ellipse class="k" cx="531.3" cy="399.6" rx="1.26" ry="1.80" transform="rotate(28 531.3 399.6)"/><ellipse class="k" cx="537.0" cy="381.5" rx="1.26" ry="1.80" transform="rotate(28 537.0 381.5)"/><ellipse class="k" cx="582.0" cy="405.5" rx="1.26" ry="1.80" transform="rotate(28 582.0 405.5)"/><ellipse class="k" cx="570.2" cy="420.3" rx="1.26" ry="1.80" transform="rotate(28 570.2 420.3)"/>
<ellipse class="kf" cx="574.0" cy="402.0" rx="19.56" ry="32.35" transform="rotate(28 574.0 402.0)"/><path d="M559.1,430.7 L571.1,436.7 L600.9,379.3 L588.9,373.3 Z" fill="#fff" stroke="none"/><path class="k" d="M559.1,430.7 L571.1,436.7 M600.9,379.3 L588.9,373.3"/><ellipse class="kf" cx="586.0" cy="408.0" rx="19.56" ry="32.35" transform="rotate(28 586.0 408.0)"/>
<path class="k" d="M556,367 L575,377 M550,377 L570,388 M547,390 L567,399 M548,404 L566,411 M552,417 L568,421" />
<path class="k" d="M553,371 L556,367 L560,363 M549,382 L550,377 M547,395 L547,390 M549,409 L548,404" />
<path class="k" d="M562,398 L580,405 L581,416 L563,411 Z" />
<ellipse class="kf" cx="588.0" cy="410.0" rx="24.60" ry="32.86" transform="rotate(30 588.0 410.0)"/><path d="M571.9,438.7 L586.9,447.0 L619.1,389.6 L604.1,381.3 Z" fill="#fff" stroke="none"/><path class="k" d="M571.9,438.7 L586.9,447.0 M619.1,389.6 L604.1,381.3"/><ellipse class="kf" cx="603.0" cy="418.3" rx="24.60" ry="32.86" transform="rotate(30 603.0 418.3)"/>
<ellipse class="kf" cx="603.0" cy="418.3" rx="24.60" ry="32.86" transform="rotate(30 603.0 418.3)" />
<ellipse class="k" cx="604.0" cy="419.0" rx="21.52" ry="29.60" transform="rotate(30 604.0 419.0)" />
<ellipse class="k" cx="621.3" cy="429.0" rx="0.66" ry="0.95" transform="rotate(30 621.3 429.0)"/><ellipse class="k" cx="618.0" cy="433.8" rx="0.66" ry="0.95" transform="rotate(30 618.0 433.8)"/><ellipse class="k" cx="614.1" cy="438.0" rx="0.66" ry="0.95" transform="rotate(30 614.1 438.0)"/><ellipse class="k" cx="609.8" cy="441.4" rx="0.66" ry="0.95" transform="rotate(30 609.8 441.4)"/><ellipse class="k" cx="605.2" cy="443.8" rx="0.66" ry="0.95" transform="rotate(30 605.2 443.8)"/><ellipse class="k" cx="600.5" cy="445.1" rx="0.66" ry="0.95" transform="rotate(30 600.5 445.1)"/><ellipse class="k" cx="596.0" cy="445.2" rx="0.66" ry="0.95" transform="rotate(30 596.0 445.2)"/><ellipse class="k" cx="591.8" cy="444.2" rx="0.66" ry="0.95" transform="rotate(30 591.8 444.2)"/><ellipse class="k" cx="588.2" cy="442.1" rx="0.66" ry="0.95" transform="rotate(30 588.2 442.1)"/><ellipse class="k" cx="585.3" cy="439.0" rx="0.66" ry="0.95" transform="rotate(30 585.3 439.0)"/><ellipse class="k" cx="583.2" cy="435.1" rx="0.66" ry="0.95" transform="rotate(30 583.2 435.1)"/><ellipse class="k" cx="582.0" cy="430.4" rx="0.66" ry="0.95" transform="rotate(30 582.0 430.4)"/><ellipse class="k" cx="581.7" cy="425.2" rx="0.66" ry="0.95" transform="rotate(30 581.7 425.2)"/><ellipse class="k" cx="582.5" cy="419.8" rx="0.66" ry="0.95" transform="rotate(30 582.5 419.8)"/><ellipse class="k" cx="584.1" cy="414.3" rx="0.66" ry="0.95" transform="rotate(30 584.1 414.3)"/><ellipse class="k" cx="586.7" cy="409.0" rx="0.66" ry="0.95" transform="rotate(30 586.7 409.0)"/><ellipse class="k" cx="590.0" cy="404.2" rx="0.66" ry="0.95" transform="rotate(30 590.0 404.2)"/><ellipse class="k" cx="593.9" cy="400.0" rx="0.66" ry="0.95" transform="rotate(30 593.9 400.0)"/><ellipse class="k" cx="598.2" cy="396.6" rx="0.66" ry="0.95" transform="rotate(30 598.2 396.6)"/><ellipse class="k" cx="602.8" cy="394.2" rx="0.66" ry="0.95" transform="rotate(30 602.8 394.2)"/><ellipse class="k" cx="607.5" cy="392.9" rx="0.66" ry="0.95" transform="rotate(30 607.5 392.9)"/><ellipse class="k" cx="612.0" cy="392.8" rx="0.66" ry="0.95" transform="rotate(30 612.0 392.8)"/><ellipse class="k" cx="616.2" cy="393.8" rx="0.66" ry="0.95" transform="rotate(30 616.2 393.8)"/><ellipse class="k" cx="619.8" cy="395.9" rx="0.66" ry="0.95" transform="rotate(30 619.8 395.9)"/><ellipse class="k" cx="622.7" cy="399.0" rx="0.66" ry="0.95" transform="rotate(30 622.7 399.0)"/><ellipse class="k" cx="624.8" cy="402.9" rx="0.66" ry="0.95" transform="rotate(30 624.8 402.9)"/><ellipse class="k" cx="626.0" cy="407.6" rx="0.66" ry="0.95" transform="rotate(30 626.0 407.6)"/><ellipse class="k" cx="626.3" cy="412.8" rx="0.66" ry="0.95" transform="rotate(30 626.3 412.8)"/><ellipse class="k" cx="625.5" cy="418.2" rx="0.66" ry="0.95" transform="rotate(30 625.5 418.2)"/><ellipse class="k" cx="623.9" cy="423.7" rx="0.66" ry="0.95" transform="rotate(30 623.9 423.7)"/>
<ellipse class="k" cx="604.5" cy="419.5" rx="18.17" ry="26.27" transform="rotate(30 604.5 419.5)" />
<path class="k" d="M558,379 L600,379.5" />
<ellipse class="kf" cx="645.0" cy="441.5" rx="10.00" ry="19.50" transform="rotate(36 645.0 441.5)"/><path d="M643.8,456.1 L646.3,454.6 L648.7,425.4 L646.2,426.9 Z" fill="#fff" stroke="none"/><path class="k" d="M643.8,456.1 L646.3,454.6 M648.7,425.4 L646.2,426.9"/><ellipse class="kf" cx="647.5" cy="440.0" rx="10.00" ry="19.50" transform="rotate(36 647.5 440.0)"/>
<ellipse class="kf" cx="647.5" cy="440.0" rx="10.00" ry="19.50" transform="rotate(36 647.5 440.0)" stroke-width="1.3"/>
<ellipse class="k" cx="648.0" cy="440.2" rx="7.80" ry="17.00" transform="rotate(36 648.0 440.2)" />
<ellipse class="k" cx="653.6" cy="444.3" rx="0.56" ry="0.80" transform="rotate(36 653.6 444.3)"/><ellipse class="k" cx="648.9" cy="449.5" rx="0.56" ry="0.80" transform="rotate(36 648.9 449.5)"/><ellipse class="k" cx="644.1" cy="452.8" rx="0.56" ry="0.80" transform="rotate(36 644.1 452.8)"/><ellipse class="k" cx="640.1" cy="453.7" rx="0.56" ry="0.80" transform="rotate(36 640.1 453.7)"/><ellipse class="k" cx="637.6" cy="451.9" rx="0.56" ry="0.80" transform="rotate(36 637.6 451.9)"/><ellipse class="k" cx="637.2" cy="447.8" rx="0.56" ry="0.80" transform="rotate(36 637.2 447.8)"/><ellipse class="k" cx="638.9" cy="442.2" rx="0.56" ry="0.80" transform="rotate(36 638.9 442.2)"/><ellipse class="k" cx="642.4" cy="436.1" rx="0.56" ry="0.80" transform="rotate(36 642.4 436.1)"/><ellipse class="k" cx="647.1" cy="430.9" rx="0.56" ry="0.80" transform="rotate(36 647.1 430.9)"/><ellipse class="k" cx="651.9" cy="427.6" rx="0.56" ry="0.80" transform="rotate(36 651.9 427.6)"/><ellipse class="k" cx="655.9" cy="426.7" rx="0.56" ry="0.80" transform="rotate(36 655.9 426.7)"/><ellipse class="k" cx="658.4" cy="428.5" rx="0.56" ry="0.80" transform="rotate(36 658.4 428.5)"/><ellipse class="k" cx="658.8" cy="432.6" rx="0.56" ry="0.80" transform="rotate(36 658.8 432.6)"/><ellipse class="k" cx="657.1" cy="438.2" rx="0.56" ry="0.80" transform="rotate(36 657.1 438.2)"/>
<ellipse class="k" cx="648.3" cy="440.4" rx="6.00" ry="14.80" transform="rotate(36 648.3 440.4)" />
<ellipse class="kf" cx="677.0" cy="463.0" rx="15.73" ry="20.61" transform="rotate(22 677.0 463.0)"/><path d="M680.7,481.3 L685.7,478.8 L678.3,442.2 L673.3,444.7 Z" fill="#fff" stroke="none"/><path class="k" d="M680.7,481.3 L685.7,478.8 M678.3,442.2 L673.3,444.7"/><ellipse class="kf" cx="682.0" cy="460.5" rx="15.73" ry="20.61" transform="rotate(22 682.0 460.5)"/>
<ellipse class="kf" cx="682.0" cy="460.5" rx="16.25" ry="21.00" transform="rotate(22 682.0 460.5)" />
<ellipse class="k" cx="683.0" cy="461.0" rx="9.92" ry="16.12" transform="rotate(22 683.0 461.0)" />
<ellipse class="k" cx="691.0" cy="464.2" rx="0.77" ry="1.10" transform="rotate(22 691.0 464.2)"/><ellipse class="k" cx="687.9" cy="469.6" rx="0.77" ry="1.10" transform="rotate(22 687.9 469.6)"/><ellipse class="k" cx="683.8" cy="473.3" rx="0.77" ry="1.10" transform="rotate(22 683.8 473.3)"/><ellipse class="k" cx="679.6" cy="474.6" rx="0.77" ry="1.10" transform="rotate(22 679.6 474.6)"/><ellipse class="k" cx="676.0" cy="473.2" rx="0.77" ry="1.10" transform="rotate(22 676.0 473.2)"/><ellipse class="k" cx="673.9" cy="469.3" rx="0.77" ry="1.10" transform="rotate(22 673.9 469.3)"/><ellipse class="k" cx="673.5" cy="463.8" rx="0.77" ry="1.10" transform="rotate(22 673.5 463.8)"/><ellipse class="k" cx="675.0" cy="457.8" rx="0.77" ry="1.10" transform="rotate(22 675.0 457.8)"/><ellipse class="k" cx="678.1" cy="452.4" rx="0.77" ry="1.10" transform="rotate(22 678.1 452.4)"/><ellipse class="k" cx="682.2" cy="448.7" rx="0.77" ry="1.10" transform="rotate(22 682.2 448.7)"/><ellipse class="k" cx="686.4" cy="447.4" rx="0.77" ry="1.10" transform="rotate(22 686.4 447.4)"/><ellipse class="k" cx="690.0" cy="448.8" rx="0.77" ry="1.10" transform="rotate(22 690.0 448.8)"/><ellipse class="k" cx="692.1" cy="452.7" rx="0.77" ry="1.10" transform="rotate(22 692.1 452.7)"/><ellipse class="k" cx="692.5" cy="458.2" rx="0.77" ry="1.10" transform="rotate(22 692.5 458.2)"/>
<ellipse class="k" cx="683.5" cy="461.3" rx="6.57" ry="12.12" transform="rotate(22 683.5 461.3)" />
<ellipse class="k" cx="683.5" cy="461.3" rx="5.28" ry="10.57" transform="rotate(22 683.5 461.3)" />
<ellipse class="kf" cx="741.5" cy="495.0" rx="44.03" ry="54.63" transform="rotate(20 741.5 495.0)"/><path d="M717.2,543.7 L720.7,545.7 L769.3,448.3 L765.8,446.3 Z" fill="#fff" stroke="none"/><path class="k" d="M717.2,543.7 L720.7,545.7 M769.3,448.3 L765.8,446.3"/><ellipse class="kf" cx="745.0" cy="497.0" rx="44.03" ry="54.63" transform="rotate(20 745.0 497.0)"/>
<ellipse class="kf" cx="745.0" cy="497.0" rx="44.03" ry="54.63" transform="rotate(20 745.0 497.0)" />
<ellipse class="k" cx="746.5" cy="498.0" rx="40.94" ry="51.41" transform="rotate(20 746.5 498.0)" />
<ellipse class="k" cx="748.0" cy="499.0" rx="38.63" ry="49.11" transform="rotate(20 748.0 499.0)" />
<ellipse class="kf" cx="748.0" cy="499.0" rx="36.56" ry="47.07" transform="rotate(24 748.0 499.0)"/><path d="M726.6,540.9 L756.6,557.9 L799.4,474.1 L769.4,457.1 Z" fill="#fff" stroke="none"/><path class="k" d="M726.6,540.9 L756.6,557.9 M799.4,474.1 L769.4,457.1"/><ellipse class="kf" cx="778.0" cy="516.0" rx="36.56" ry="47.07" transform="rotate(24 778.0 516.0)"/>
<rect class="kf" x="0" y="-3.4" width="28" height="6.8" rx="3" transform="translate(762,458) rotate(28)"/>
<rect class="kf" x="0" y="-3.4" width="28" height="6.8" rx="3" transform="translate(741,467) rotate(28)"/>
<rect class="kf" x="0" y="-3.4" width="28" height="6.8" rx="3" transform="translate(723,488) rotate(28)"/>
<rect class="kf" x="0" y="-3.4" width="28" height="6.8" rx="3" transform="translate(715,516) rotate(28)"/>
<ellipse class="kf" cx="778.0" cy="516.0" rx="33.86" ry="44.31" transform="rotate(26 778.0 516.0)" />
<ellipse class="k" cx="778.6" cy="516.4" rx="31.62" ry="41.75" transform="rotate(26 778.6 516.4)" />
<ellipse class="k" cx="779.2" cy="516.8" rx="29.60" ry="39.74" transform="rotate(26 779.2 516.8)" />
<ellipse class="k" cx="802.3" cy="528.1" rx="1.33" ry="1.90" transform="rotate(26 802.3 528.1)"/><ellipse class="k" cx="793.3" cy="540.7" rx="1.33" ry="1.90" transform="rotate(26 793.3 540.7)"/><ellipse class="k" cx="781.6" cy="548.6" rx="1.33" ry="1.90" transform="rotate(26 781.6 548.6)"/><ellipse class="k" cx="769.5" cy="550.3" rx="1.33" ry="1.90" transform="rotate(26 769.5 550.3)"/><ellipse class="k" cx="759.4" cy="545.3" rx="1.33" ry="1.90" transform="rotate(26 759.4 545.3)"/><ellipse class="k" cx="753.2" cy="534.8" rx="1.33" ry="1.90" transform="rotate(26 753.2 534.8)"/><ellipse class="k" cx="752.3" cy="520.7" rx="1.33" ry="1.90" transform="rotate(26 752.3 520.7)"/><ellipse class="k" cx="756.7" cy="505.9" rx="1.33" ry="1.90" transform="rotate(26 756.7 505.9)"/><ellipse class="k" cx="765.7" cy="493.3" rx="1.33" ry="1.90" transform="rotate(26 765.7 493.3)"/><ellipse class="k" cx="777.4" cy="485.4" rx="1.33" ry="1.90" transform="rotate(26 777.4 485.4)"/><ellipse class="k" cx="789.5" cy="483.7" rx="1.33" ry="1.90" transform="rotate(26 789.5 483.7)"/><ellipse class="k" cx="799.6" cy="488.7" rx="1.33" ry="1.90" transform="rotate(26 799.6 488.7)"/><ellipse class="k" cx="805.8" cy="499.2" rx="1.33" ry="1.90" transform="rotate(26 805.8 499.2)"/><ellipse class="k" cx="806.7" cy="513.3" rx="1.33" ry="1.90" transform="rotate(26 806.7 513.3)"/>
<ellipse class="k" cx="781.0" cy="518.0" rx="22.15" ry="32.59" transform="rotate(15 781.0 518.0)" />
<g transform="translate(796.5,550.5) rotate(27)"><rect class="kf" x="0" y="-2" width="13" height="4"/><path class="k" stroke-width="0.5" d="M1,-2 l1.2,4 M3,-2 l1.2,4 M5,-2 l1.2,4 M7,-2 l1.2,4 M9,-2 l1.2,4 M11,-2 l1.2,4"/><rect class="kf" x="13" y="-3.6" width="5" height="7.2" rx="1"/></g>
<path class="d" d="M783.6,518.9 L836.3,547.5 L836.3,622.6 L783.2,594.2" />
<path class="d" d="M923.5,409.6 L976.5,439.9 L976.5,501.3 L923.5,471.7" /><g transform="rotate(28 447 109)"><rect class="kf" x="440" y="105.5" width="10" height="7" rx="2.5"/><ellipse class="kf" cx="450" cy="109" rx="1.8" ry="3.5"/><ellipse class="k" cx="450" cy="109" rx="0.8" ry="1.5"/></g>
<rect class="kf" x="560.3" y="86" width="5.6" height="17" rx="1"/>
<path class="k" stroke-width="0.5" d="M560.3,89.0 l5.6,1 M560.3,90.9 l5.6,1 M560.3,92.8 l5.6,1 M560.3,94.7 l5.6,1 M560.3,96.6 l5.6,1 M560.3,98.5 l5.6,1 M560.3,100.4 l5.6,1"/>
<path class="kf" d="M558,82 L558,86 Q563,89 568,86 L568,82 Z"/>
<ellipse class="kf" cx="563" cy="82" rx="5" ry="2"/>
<ellipse class="kf" cx="562.7" cy="114" rx="6.8" ry="3.6"/><ellipse class="k" cx="562.7" cy="114" rx="3.2" ry="1.6"/>
<path class="d" d="M562.7,118 L562.7,200" />
<g transform="translate(742,50.5) rotate(26)"><rect class="kf" x="3.5" y="-1.8" width="13" height="3.6"/><path class="k" stroke-width="0.5" d="M5.0,-1.8 l1,3.6 M6.8,-1.8 l1,3.6 M8.6,-1.8 l1,3.6 M10.4,-1.8 l1,3.6 M12.2,-1.8 l1,3.6 M14.0,-1.8 l1,3.6 M15.8,-1.8 l1,3.6"/><rect class="kf" x="0" y="-3.25" width="3.5" height="6.5" rx="1"/><ellipse class="kf" cx="0" cy="0" rx="1.3" ry="3.25"/></g>
<path class="d" d="M759.7,59.5 L777.8,70.2" />
<g transform="rotate(-22 780.5 75)"><rect class="kf" x="772.5" y="71" width="16" height="8" rx="4"/><ellipse class="k" cx="777" cy="75" rx="1.6" ry="1.9"/><ellipse class="k" cx="784" cy="75" rx="1.6" ry="1.9"/></g>
<path class="d" d="M774,79 L705.5,117.5" />
<path d="M716,72 L733,102" fill="none" stroke="#333" stroke-width="4.4" stroke-linecap="round" stroke-linejoin="round"/><path d="M716,72 L733,102" fill="none" stroke="#fff" stroke-width="2.7" stroke-linecap="round" stroke-linejoin="round"/>
<ellipse class="kf" cx="734" cy="102.5" rx="2.4" ry="1.6" transform="rotate(-30 734 102.5)"/>
<ellipse class="kf" cx="718" cy="70" rx="10" ry="4.2" transform="rotate(18 718 70)"/>
<ellipse class="kf" cx="718" cy="67.5" rx="9" ry="3.6" transform="rotate(18 718 67.5)"/>
<path class="kf" d="M712.5,59.5 L712.5,65 Q716,68 720,66 L720,60.5 Z"/><ellipse class="kf" cx="716.2" cy="60" rx="3.7" ry="1.6" transform="rotate(15 716.2 60)"/>
<g transform="translate(693,124) rotate(-28)"><rect class="kf" x="3" y="-1.7" width="10" height="3.4"/><path class="k" stroke-width="0.5" d="M4.5,-1.7 l1,3.4 M6.3,-1.7 l1,3.4 M8.1,-1.7 l1,3.4 M9.9,-1.7 l1,3.4 M11.7,-1.7 l1,3.4"/><rect class="kf" x="0" y="-3.0" width="3" height="6" rx="1"/><ellipse class="kf" cx="0" cy="0" rx="1.3" ry="3.0"/></g>
<path d="M706,122.5 L718,129" fill="none" stroke="#333" stroke-width="2.6" stroke-linecap="round" stroke-linejoin="round"/><path d="M706,122.5 L718,129" fill="none" stroke="#fff" stroke-width="1.0" stroke-linecap="round" stroke-linejoin="round"/>
<path class="kf" d="M733,112.5 L740.5,110.5 L741,113 L734,114.5 Z" />
<path class="d" d="M738.3,114 L748.9,140.2 L692.8,170 L741,281.6" />
<ellipse class="kf" cx="811.5" cy="56.5" rx="3.00" ry="4.30" transform="rotate(-40 811.5 56.5)" /><ellipse class="k" cx="811.5" cy="56.5" rx="1.40" ry="2.30" transform="rotate(-40 811.5 56.5)" />
<path d="M815,71 C812,66 815,66 818,67.5 L844,67 C850,66 852,58 856,54 C858,51.5 861,51.5 864,53 L912,79" fill="none" stroke="#333" stroke-width="4.4" stroke-linecap="round" stroke-linejoin="round"/><path d="M815,71 C812,66 815,66 818,67.5 L844,67 C850,66 852,58 856,54 C858,51.5 861,51.5 864,53 L912,79" fill="none" stroke="#fff" stroke-width="2.3" stroke-linecap="round" stroke-linejoin="round"/>
<path d="M815,83 C812,78 815,78 818,79.5 L846,80 C852,79 855,70 858,67 C860,65 863,65 866,66.5 L912,90.5" fill="none" stroke="#333" stroke-width="4.4" stroke-linecap="round" stroke-linejoin="round"/><path d="M815,83 C812,78 815,78 818,79.5 L846,80 C852,79 855,70 858,67 C860,65 863,65 866,66.5 L912,90.5" fill="none" stroke="#fff" stroke-width="2.3" stroke-linecap="round" stroke-linejoin="round"/>
<rect class="kf" x="823" y="65.0" width="4" height="5"/>
<rect class="kf" x="824" y="77.3" width="4" height="5"/>
<ellipse class="kf" cx="913.5" cy="80.0" rx="2.60" ry="3.20" transform="rotate(-30 913.5 80.0)" /><ellipse class="kf" cx="913.5" cy="91.3" rx="2.60" ry="3.20" transform="rotate(-30 913.5 91.3)" />
<path d="M928.7,89 L928.7,76 C928.7,66 914,64 910,73 L896.4,90 C892,98 894,110 899,117 C904,124 914,131 922,136" fill="none" stroke="#333" stroke-width="4.2" stroke-linecap="round" stroke-linejoin="round"/><path d="M928.7,89 L928.7,76 C928.7,66 914,64 910,73 L896.4,90 C892,98 894,110 899,117 C904,124 914,131 922,136" fill="none" stroke="#fff" stroke-width="2.2" stroke-linecap="round" stroke-linejoin="round"/>
<ellipse class="kf" cx="928.7" cy="90.5" rx="2.60" ry="2.20" transform="rotate(0 928.7 90.5)" /><ellipse class="kf" cx="923.0" cy="136.0" rx="2.60" ry="3.00" transform="rotate(-40 923.0 136.0)" />
<ellipse class="k" cx="920.5" cy="97.0" rx="1.60" ry="2.20" transform="rotate(-10 920.5 97.0)" />
<path class="kf" d="M926,99 C928,96 933,96 935,99 L940,101 L939,105 L934,104 C931,107 927,106 926,103 Z" />
<ellipse class="k" cx="930.0" cy="101.5" rx="1.80" ry="2.00" transform="rotate(0 930.0 101.5)" />
<g transform="translate(963.5,88.5) rotate(152)"><rect class="kf" x="3.5" y="-1.5" width="13" height="3"/><path class="k" stroke-width="0.5" d="M5.0,-1.5 l1,3 M6.8,-1.5 l1,3 M8.6,-1.5 l1,3 M10.4,-1.5 l1,3 M12.2,-1.5 l1,3 M14.0,-1.5 l1,3 M15.8,-1.5 l1,3"/><rect class="kf" x="0" y="-3.0" width="3.5" height="6" rx="1"/><ellipse class="kf" cx="0" cy="0" rx="1.3" ry="3.0"/></g>
<path d="M943,109.5 L1008,145.5 C1013,148 1014,155 1007,158.5 L970,161.5 C966,161.5 962,160 958,162 C955,164 956,166 958,166" fill="none" stroke="#333" stroke-width="4.2" stroke-linecap="round" stroke-linejoin="round"/><path d="M943,109.5 L1008,145.5 C1013,148 1014,155 1007,158.5 L970,161.5 C966,161.5 962,160 958,162 C955,164 956,166 958,166" fill="none" stroke="#fff" stroke-width="2.2" stroke-linecap="round" stroke-linejoin="round"/>
<path d="M981,124 L1027,148.5 C1036,152 1041,160 1031,167.5 L994,169.5 C989,169 986,169 983,171 C981,173 982,175 984,175" fill="none" stroke="#333" stroke-width="4.2" stroke-linecap="round" stroke-linejoin="round"/><path d="M981,124 L1027,148.5 C1036,152 1041,160 1031,167.5 L994,169.5 C989,169 986,169 983,171 C981,173 982,175 984,175" fill="none" stroke="#fff" stroke-width="2.2" stroke-linecap="round" stroke-linejoin="round"/>
<ellipse class="kf" cx="943.5" cy="109.5" rx="2.60" ry="3.20" transform="rotate(-30 943.5 109.5)" /><ellipse class="kf" cx="981.5" cy="124.0" rx="2.60" ry="3.20" transform="rotate(-30 981.5 124.0)" />
<rect class="kf" x="966" y="159.0" width="4" height="5"/>
<rect class="kf" x="993" y="167.0" width="4" height="5"/>
<path class="kf" d="M1023,150 C1024,145 1031,145 1031.5,150 L1031,154 L1024,155 Z" />
<path class="kf" d="M1022,155 L1031,153 L1030,158 L1021,159 Z" />
<path class="kf" d="M628,178.5 L639,177.5 L637.5,180.5 L636,185 L632,186 L630.5,181 Z" />
<ellipse class="kf" cx="633.5" cy="178.2" rx="5.50" ry="1.60" transform="rotate(-5 633.5 178.2)" />
<path class="d" d="M635.5,186.5 L643.2,203.5" />
<g transform="translate(584,310.5) rotate(-30)"><rect class="kf" x="3.5" y="-1.8" width="11" height="3.6"/><path class="k" stroke-width="0.5" d="M5.0,-1.8 l1,3.6 M6.8,-1.8 l1,3.6 M8.6,-1.8 l1,3.6 M10.4,-1.8 l1,3.6 M12.2,-1.8 l1,3.6 M14.0,-1.8 l1,3.6"/><rect class="kf" x="0" y="-3.25" width="3.5" height="6.5" rx="1"/><ellipse class="kf" cx="0" cy="0" rx="1.3" ry="3.25"/></g>
<path class="d" d="M598.5,301.5 L626,288" />
<path class="kf" d="M684.5,342 L692,339.5 L694.5,341 L687,344 Z" />
<path class="d" d="M689,340 L683,330" />
<path class="kf" d="M688.5,359 L691,355 L694,354 L697,355.5 L701,358 L700,361 L696,362.5 L690,362 Z" />
<path class="k" d="M691,355 L692,358.5 L698,359.5 L697,355.5 M692,358.5 L689.5,360" />
<path class="kf" d="M752.5,190 L752.5,193.5 Q758,198 764,193.5 L764,190 Z" />
<ellipse class="kf" cx="758.2" cy="190.0" rx="5.80" ry="2.40" transform="rotate(0 758.2 190.0)" />
<path class="kf" d="M754,186.5 L754,190.5 Q758,193 762.5,190.5 L762.5,186.5 Z" />
<ellipse class="kf" cx="758.2" cy="186.5" rx="4.30" ry="2.00" transform="rotate(0 758.2 186.5)" />
<ellipse class="kf" cx="735.8" cy="203.2" rx="2.60" ry="4.20" transform="rotate(-40 735.8 203.2)" /><ellipse class="k" cx="735.8" cy="203.2" rx="1.10" ry="2.10" transform="rotate(-40 735.8 203.2)" />
<path class="d" d="M732.5,206 L712.6,216.3" />
<path class="kf" d="M708,244 L722,237.5 L733.5,231.5 L735,233.5 L724,240.5 L710,246.5 Z" />
<path class="k" d="M719,240 L722,252 L730,256 M724,240 L730,256" />
<ellipse class="kf" cx="703.0" cy="246.5" rx="2.60" ry="3.20" transform="rotate(-30 703.0 246.5)" />
<g transform="translate(785.7,233.6) rotate(-30.3)"><rect class="kf" x="0" y="-3.2" width="8" height="6.4" rx="1.5"/><rect class="kf" x="8" y="-2.6" width="10" height="5.2"/><path class="k" stroke-width="0.5" d="M8.0,-2.6 l0.8,5.2 M9.5,-2.6 l0.8,5.2 M11.0,-2.6 l0.8,5.2 M12.5,-2.6 l0.8,5.2 M14.0,-2.6 l0.8,5.2 M15.5,-2.6 l0.8,5.2 M17.0,-2.6 l0.8,5.2"/><path class="kf" d="M18,-2.4 L24,-1.5 L24,1.5 L18,2.4 Z"/><rect class="kf" x="24" y="-1.5" width="15" height="3" rx="1.2"/></g>
<path class="d" d="M785.7,233.6 L738.2,261.5" />
<path class="kf" d="M828,207 L838,201 L842,203 L842.5,212 L840,216 L837.5,213 L836,210 L834,212 L833,219 L830,222 L827,220 L826.5,211 Z" />
<path class="k" d="M829,208 L839,203" />
<ellipse class="kf" cx="850.2" cy="196.6" rx="1.50" ry="2.80" transform="rotate(-15 850.2 196.6)" />
<ellipse class="kf" cx="858.0" cy="191.5" rx="2.30" ry="3.00" transform="rotate(-20 858.0 191.5)"/><path d="M859.1,194.3 L864.1,192.3 L861.9,186.7 L856.9,188.7 Z" fill="#fff" stroke="none"/><path class="k" d="M859.1,194.3 L864.1,192.3 M861.9,186.7 L856.9,188.7"/><ellipse class="kf" cx="863.0" cy="189.5" rx="2.30" ry="3.00" transform="rotate(-20 863.0 189.5)"/>
<ellipse class="kf" cx="872.0" cy="183.8" rx="3.00" ry="3.60" transform="rotate(-20 872.0 183.8)" /><ellipse class="k" cx="872.0" cy="183.8" rx="1.60" ry="2.20" transform="rotate(-20 872.0 183.8)" />
<path class="kf" d="M809.5,270 L815,267.5 L817.6,268.5 L816,271 L811,272 Z" />
<path class="kf" d="M816,284.5 L820,282 L822,283 L818,286 Z" />
<path class="d" d="M812.5,266.6 L802.2,247 L770.2,264.6" />
<ellipse class="kf" cx="952.0" cy="253.0" rx="3.00" ry="3.40" transform="rotate(-15 952.0 253.0)" /><ellipse class="k" cx="952.0" cy="253.0" rx="1.40" ry="1.80" transform="rotate(-15 952.0 253.0)" />
<ellipse class="kf" cx="974.2" cy="264.7" rx="5.20" ry="7.20" transform="rotate(30 974.2 264.7)" stroke-width="1.6"/><ellipse class="k" cx="974.2" cy="264.7" rx="3.60" ry="5.40" transform="rotate(30 974.2 264.7)" />
<ellipse class="kf" cx="988.2" cy="273.4" rx="5.20" ry="7.20" transform="rotate(30 988.2 273.4)" stroke-width="1.6"/><ellipse class="k" cx="988.2" cy="273.4" rx="3.60" ry="5.40" transform="rotate(30 988.2 273.4)" />
<ellipse class="kf" cx="1015.0" cy="287.0" rx="4.00" ry="4.80" transform="rotate(30 1015.0 287.0)" /><ellipse class="k" cx="1015.0" cy="287.0" rx="2.30" ry="3.00" transform="rotate(30 1015.0 287.0)" />
<path class="kf" d="M1044.5,256.5 L1052,254.5 L1053,258.5 L1047.5,268 L1047,285 L1052,288 L1057,293 L1058,303 L1055,311 L1052,316.5 L1046,318 L1038,315 L1033,308 L1031,299 L1033,291 L1038.5,287 L1038.5,272 L1043,262 Z" />
<path class="k" d="M1044.5,256.5 L1046,261.5 L1053,258.5 M1046,261.5 L1043,262 M1038.5,287 L1047,285" />
<ellipse class="k" cx="1048.0" cy="259.0" rx="1.30" ry="1.60" transform="rotate(0 1048.0 259.0)" />
<ellipse class="k" cx="1048.0" cy="304.0" rx="6.50" ry="7.50" transform="rotate(20 1048.0 304.0)" /><ellipse class="k" cx="1048.5" cy="304.5" rx="4.20" ry="5.20" transform="rotate(20 1048.5 304.5)" />
<path class="k" d="M1033,293 L1039,291 L1040,298 L1034,300 Z" />
<ellipse class="kf" cx="1050.0" cy="315.5" rx="2.20" ry="1.60" transform="rotate(0 1050.0 315.5)" /><path class="kf" d="M434.5,562 L441.5,559 Q444.5,560 444,563 L443,569.5 L436.5,572 Q434,571.5 434.5,569 Z" />
<ellipse class="k" cx="439.3" cy="565.5" rx="1.80" ry="2.30" transform="rotate(15 439.3 565.5)" />
<path class="d" d="M444,572 L446,574 L446,588 L452,592" />
<ellipse class="kf" cx="457.0" cy="604.0" rx="18.81" ry="27.36" transform="rotate(20 457.0 604.0)"/><path d="M442.2,626.0 L455.2,640.4 L484.8,596.4 L471.8,582.0 Z" fill="#fff" stroke="none"/><path class="k" d="M442.2,626.0 L455.2,640.4 M484.8,596.4 L471.8,582.0"/><ellipse class="kf" cx="470.0" cy="618.4" rx="18.81" ry="27.36" transform="rotate(20 470.0 618.4)"/>
<path class="k" d="M439,600 L451,606 M437,615 L450,621 M439,628 L451,633 M446,592 L458,598" stroke-width="0.8"/>
<ellipse class="k" cx="446.5" cy="605.0" rx="3.62" ry="4.93" transform="rotate(20 446.5 605.0)" /><ellipse class="k" cx="446.5" cy="605.0" rx="1.89" ry="2.68" transform="rotate(20 446.5 605.0)" />
<ellipse class="kf" cx="470.0" cy="618.4" rx="22.66" ry="31.06" transform="rotate(20 470.0 618.4)" />
<ellipse class="k" cx="470.5" cy="618.6" rx="19.12" ry="27.00" transform="rotate(20 470.5 618.6)" />
<ellipse class="k" cx="489.8" cy="625.6" rx="0.77" ry="1.10" transform="rotate(20 489.8 625.6)"/><ellipse class="k" cx="486.6" cy="632.5" rx="0.77" ry="1.10" transform="rotate(20 486.6 632.5)"/><ellipse class="k" cx="482.2" cy="638.3" rx="0.77" ry="1.10" transform="rotate(20 482.2 638.3)"/><ellipse class="k" cx="477.1" cy="642.8" rx="0.77" ry="1.10" transform="rotate(20 477.1 642.8)"/><ellipse class="k" cx="471.4" cy="645.7" rx="0.77" ry="1.10" transform="rotate(20 471.4 645.7)"/><ellipse class="k" cx="465.7" cy="646.7" rx="0.77" ry="1.10" transform="rotate(20 465.7 646.7)"/><ellipse class="k" cx="460.3" cy="645.8" rx="0.77" ry="1.10" transform="rotate(20 460.3 645.8)"/><ellipse class="k" cx="455.5" cy="643.0" rx="0.77" ry="1.10" transform="rotate(20 455.5 643.0)"/><ellipse class="k" cx="451.8" cy="638.6" rx="0.77" ry="1.10" transform="rotate(20 451.8 638.6)"/><ellipse class="k" cx="449.3" cy="632.7" rx="0.77" ry="1.10" transform="rotate(20 449.3 632.7)"/><ellipse class="k" cx="448.2" cy="626.0" rx="0.77" ry="1.10" transform="rotate(20 448.2 626.0)"/><ellipse class="k" cx="448.7" cy="618.7" rx="0.77" ry="1.10" transform="rotate(20 448.7 618.7)"/><ellipse class="k" cx="450.6" cy="611.4" rx="0.77" ry="1.10" transform="rotate(20 450.6 611.4)"/><ellipse class="k" cx="453.8" cy="604.5" rx="0.77" ry="1.10" transform="rotate(20 453.8 604.5)"/><ellipse class="k" cx="458.2" cy="598.7" rx="0.77" ry="1.10" transform="rotate(20 458.2 598.7)"/><ellipse class="k" cx="463.3" cy="594.2" rx="0.77" ry="1.10" transform="rotate(20 463.3 594.2)"/><ellipse class="k" cx="469.0" cy="591.3" rx="0.77" ry="1.10" transform="rotate(20 469.0 591.3)"/><ellipse class="k" cx="474.7" cy="590.3" rx="0.77" ry="1.10" transform="rotate(20 474.7 590.3)"/><ellipse class="k" cx="480.1" cy="591.2" rx="0.77" ry="1.10" transform="rotate(20 480.1 591.2)"/><ellipse class="k" cx="484.9" cy="594.0" rx="0.77" ry="1.10" transform="rotate(20 484.9 594.0)"/><ellipse class="k" cx="488.6" cy="598.4" rx="0.77" ry="1.10" transform="rotate(20 488.6 598.4)"/><ellipse class="k" cx="491.1" cy="604.3" rx="0.77" ry="1.10" transform="rotate(20 491.1 604.3)"/><ellipse class="k" cx="492.2" cy="611.0" rx="0.77" ry="1.10" transform="rotate(20 492.2 611.0)"/><ellipse class="k" cx="491.7" cy="618.3" rx="0.77" ry="1.10" transform="rotate(20 491.7 618.3)"/>
<ellipse class="k" cx="471.0" cy="618.5" rx="16.39" ry="24.29" transform="rotate(20 471.0 618.5)" />
<ellipse class="k" cx="479.5" cy="626.0" rx="1.75" ry="2.50" transform="rotate(20 479.5 626.0)"/><ellipse class="k" cx="471.4" cy="633.0" rx="1.75" ry="2.50" transform="rotate(20 471.4 633.0)"/><ellipse class="k" cx="463.3" cy="631.3" rx="1.75" ry="2.50" transform="rotate(20 463.3 631.3)"/><ellipse class="k" cx="460.0" cy="621.8" rx="1.75" ry="2.50" transform="rotate(20 460.0 621.8)"/><ellipse class="k" cx="463.5" cy="610.0" rx="1.75" ry="2.50" transform="rotate(20 463.5 610.0)"/><ellipse class="k" cx="471.6" cy="603.0" rx="1.75" ry="2.50" transform="rotate(20 471.6 603.0)"/><ellipse class="k" cx="479.7" cy="604.7" rx="1.75" ry="2.50" transform="rotate(20 479.7 604.7)"/><ellipse class="k" cx="483.0" cy="614.2" rx="1.75" ry="2.50" transform="rotate(20 483.0 614.2)"/>
<ellipse class="k" cx="468.0" cy="617.0" rx="6.53" ry="9.83" transform="rotate(20 468.0 617.0)" />
<path class="k" d="M466,612 L473,621 M463,621 L471,613" stroke-width="0.7"/>
<path class="d" d="M493.3,614.6 L498.4,594 L517,604" />
<path class="d" d="M474,619 L495,634" />
<ellipse class="kf" cx="518.0" cy="604.5" rx="3.50" ry="4.20" transform="rotate(20 518.0 604.5)"/><path d="M516.1,608.2 L535.6,619.2 L539.4,611.8 L519.9,600.8 Z" fill="#fff" stroke="none"/><path class="k" d="M516.1,608.2 L535.6,619.2 M539.4,611.8 L519.9,600.8"/><ellipse class="kf" cx="537.5" cy="615.5" rx="3.50" ry="4.20" transform="rotate(20 537.5 615.5)"/>
<ellipse class="kf" cx="537.5" cy="615.5" rx="3.50" ry="4.20" transform="rotate(20 537.5 615.5)" />
<path class="kf" d="M543.5,608.5 L547.5,606.8 L549,608 L545,610 Z" />
<ellipse class="kf" cx="496.0" cy="634.8" rx="3.30" ry="3.60" transform="rotate(20 496.0 634.8)"/><path d="M494.2,637.9 L498.2,640.3 L501.8,634.1 L497.8,631.7 Z" fill="#fff" stroke="none"/><path class="k" d="M494.2,637.9 L498.2,640.3 M501.8,634.1 L497.8,631.7"/><ellipse class="kf" cx="500.0" cy="637.2" rx="3.30" ry="3.60" transform="rotate(20 500.0 637.2)"/>
<ellipse class="kf" cx="500.0" cy="637.2" rx="3.30" ry="3.60" transform="rotate(20 500.0 637.2)" />
<g transform="translate(467.8,649.8) rotate(35)"><rect class="kf" x="0" y="-1.6" width="10" height="3.2"/><path class="k" stroke-width="0.5" d="M1.0,-1.6 l0.8,3.2 M2.6,-1.6 l0.8,3.2 M4.2,-1.6 l0.8,3.2 M5.8,-1.6 l0.8,3.2 M7.4,-1.6 l0.8,3.2 M9.0,-1.6 l0.8,3.2"/><path class="kf" d="M10,-3 L13,-3 L13,3 L10,3 Z"/></g>
<ellipse class="kf" cx="519.0" cy="647.3" rx="2.20" ry="3.30" transform="rotate(25 519.0 647.3)" stroke-width="1.3"/>
<ellipse class="kf" cx="551.5" cy="667.5" rx="13.55" ry="23.20" transform="rotate(30 551.5 667.5)"/><path d="M553.3,685.4 L555.5,683.9 L551.9,648.1 L549.7,649.6 Z" fill="#fff" stroke="none"/><path class="k" d="M553.3,685.4 L555.5,683.9 M551.9,648.1 L549.7,649.6"/><ellipse class="kf" cx="553.7" cy="666.0" rx="13.55" ry="23.20" transform="rotate(30 553.7 666.0)"/>
<ellipse class="kf" cx="553.7" cy="666.0" rx="13.84" ry="23.26" transform="rotate(30 553.7 666.0)" />
<ellipse class="k" cx="556.0" cy="664.5" rx="7.21" ry="15.62" transform="rotate(30 556.0 664.5)" />
<ellipse class="k" cx="556.5" cy="664.0" rx="5.47" ry="12.90" transform="rotate(30 556.5 664.0)" />
<ellipse class="k" cx="557.0" cy="660.0" rx="2.80" ry="2.20" transform="rotate(20 557.0 660.0)" />
<ellipse class="k" cx="552.0" cy="671.5" rx="1.50" ry="1.50" transform="rotate(0 552.0 671.5)" />
<ellipse class="k" cx="564.2" cy="672.1" rx="0.49" ry="0.70" transform="rotate(30 564.2 672.1)"/><ellipse class="k" cx="553.6" cy="683.4" rx="0.49" ry="0.70" transform="rotate(30 553.6 683.4)"/><ellipse class="k" cx="543.0" cy="684.5" rx="0.49" ry="0.70" transform="rotate(30 543.0 684.5)"/><ellipse class="k" cx="538.7" cy="674.8" rx="0.49" ry="0.70" transform="rotate(30 538.7 674.8)"/><ellipse class="k" cx="543.2" cy="659.9" rx="0.49" ry="0.70" transform="rotate(30 543.2 659.9)"/><ellipse class="k" cx="553.8" cy="648.6" rx="0.49" ry="0.70" transform="rotate(30 553.8 648.6)"/><ellipse class="k" cx="564.4" cy="647.5" rx="0.49" ry="0.70" transform="rotate(30 564.4 647.5)"/><ellipse class="k" cx="568.7" cy="657.2" rx="0.49" ry="0.70" transform="rotate(30 568.7 657.2)"/>
<path class="d" d="M557,668 L572,686" />
<ellipse class="kf" cx="573.0" cy="686.5" rx="2.80" ry="3.00" transform="rotate(20 573.0 686.5)"/><path d="M571.6,689.1 L575.1,691.1 L577.9,685.9 L574.4,683.9 Z" fill="#fff" stroke="none"/><path class="k" d="M571.6,689.1 L575.1,691.1 M577.9,685.9 L574.4,683.9"/><ellipse class="kf" cx="576.5" cy="688.5" rx="2.80" ry="3.00" transform="rotate(20 576.5 688.5)"/>
<ellipse class="kf" cx="576.5" cy="688.5" rx="2.80" ry="3.00" transform="rotate(20 576.5 688.5)" />
<g transform="translate(717.5,687.5) rotate(-145)" stroke-width="1.2"><rect class="kf" x="3" y="-1.4" width="8.5" height="2.8"/><rect class="kf" x="0" y="-2.8" width="3.8" height="5.6" rx="1"/></g>
<ellipse class="k" cx="787.2" cy="682.1" rx="2.60" ry="4.60" transform="rotate(30 787.2 682.1)" stroke-width="1.5"/>
<g stroke-width="1.2"><path class="kf" d="M858.5,680 L864.5,679 L865.5,686 L859.5,688 Z" /><ellipse class="kf" cx="861.5" cy="678.5" rx="3.00" ry="2.00" transform="rotate(0 861.5 678.5)" /><path class="k" d="M858.5,684 L865.5,683" /></g>
<path class="kf" d="M935,682 L939,680.5 L942,686 L938,688 Z" /><ellipse class="k" cx="937.0" cy="682.0" rx="1.20" ry="1.20" transform="rotate(0 937.0 682.0)" />
<ellipse class="kf" cx="1010.5" cy="682.2" rx="1.60" ry="2.60" transform="rotate(-40 1010.5 682.2)" stroke-width="1.3"/>
</g>
<g class="l">
<line x1="447.5" y1="88" x2="447.5" y2="107"/>
<line x1="567.8" y1="83.5" x2="585.8" y2="83.5"/>
<line x1="570" y1="114.5" x2="586.8" y2="114.5"/>
<line x1="746.5" y1="29.6" x2="746.5" y2="48"/>
<line x1="781.5" y1="53.7" x2="781.5" y2="70.2"/>
<line x1="689.7" y1="69.5" x2="707.8" y2="69.5"/>
<line x1="810.5" y1="34" x2="810.5" y2="52"/>
<line x1="859.5" y1="39.4" x2="859.5" y2="51.4"/>
<line x1="920.5" y1="57" x2="920.5" y2="94"/>
<line x1="960.5" y1="78" x2="960.5" y2="87"/>
<line x1="939.4" y1="102.5" x2="967.8" y2="102.5"/>
<line x1="1027.5" y1="130" x2="1027.5" y2="147"/>
<line x1="698.5" y1="102.3" x2="698.5" y2="120"/>
<line x1="739.8" y1="111.5" x2="756.4" y2="111.5"/>
<line x1="710.5" y1="128" x2="710.5" y2="144"/>
<line x1="892" y1="125.5" x2="907.5" y2="125.5"/>
<line x1="597.5" y1="152.7" x2="597.5" y2="175.4"/>
<line x1="635.5" y1="160" x2="635.5" y2="178"/>
<line x1="670.5" y1="173" x2="670.5" y2="190.2"/>
<line x1="759.5" y1="167" x2="759.5" y2="186"/>
<line x1="735.5" y1="181" x2="735.5" y2="200.6"/>
<line x1="799.5" y1="204" x2="799.5" y2="223.3"/>
<line x1="834.5" y1="184" x2="834.5" y2="200.6"/>
<line x1="849.5" y1="199.5" x2="849.5" y2="221.2"/>
<line x1="872.5" y1="187.2" x2="872.5" y2="205.7"/>
<line x1="1014.5" y1="173" x2="1014.5" y2="196.3"/>
<line x1="974.5" y1="247.4" x2="974.5" y2="258.2"/>
<line x1="951.5" y1="256" x2="951.5" y2="274"/>
<line x1="987.5" y1="279.9" x2="987.5" y2="290"/>
<line x1="1014.5" y1="266.9" x2="1014.5" y2="282"/>
<line x1="817.6" y1="269.5" x2="835.2" y2="269.5"/>
<line x1="821.8" y1="283.5" x2="840.3" y2="283.5"/>
<line x1="589.5" y1="313" x2="589.5" y2="330.6"/>
<line x1="664.7" y1="343.5" x2="684.5" y2="343.5"/>
<line x1="693.5" y1="362" x2="693.5" y2="374"/>
<line x1="56.5" y1="349.8" x2="56.5" y2="367.9"/>
<line x1="31.5" y1="377.8" x2="31.5" y2="395"/>
<line x1="76.5" y1="403.8" x2="76.5" y2="419.9"/>
<line x1="504.5" y1="382.7" x2="504.5" y2="395.9"/>
<line x1="518.5" y1="412.4" x2="518.5" y2="431"/>
<line x1="747.5" y1="554" x2="747.5" y2="570.4"/>
<line x1="808.5" y1="562" x2="808.5" y2="577.4"/>
<line x1="676.5" y1="481.4" x2="676.5" y2="499"/>
<line x1="640.5" y1="459" x2="640.5" y2="476"/>
<line x1="640.5" y1="492.4" x2="640.5" y2="540"/>
<line x1="347.5" y1="494" x2="347.5" y2="520.5"/>
<line x1="377.5" y1="486" x2="377.5" y2="523.8"/>
<line x1="398.5" y1="516" x2="398.5" y2="534.8"/>
<line x1="441.5" y1="540" x2="441.5" y2="559.3"/>
<line x1="477.5" y1="569.6" x2="477.5" y2="590"/>
<line x1="526.5" y1="588.9" x2="526.5" y2="603"/>
<line x1="546.5" y1="578" x2="546.5" y2="607.4"/>
<line x1="498.5" y1="640.3" x2="498.5" y2="658.3"/>
<line x1="476.5" y1="657" x2="476.5" y2="676.3"/>
<line x1="517.5" y1="651.9" x2="517.5" y2="667.3"/>
<line x1="548.5" y1="687.9" x2="548.5" y2="694.3"/>
<line x1="573.5" y1="691.7" x2="573.5" y2="707"/>
<line x1="281.5" y1="575.5" x2="281.5" y2="584.3"/>
<line x1="376.5" y1="574.4" x2="376.5" y2="587.6"/>
<line x1="376.5" y1="602.5" x2="376.5" y2="629"/>
<line x1="401.5" y1="584.8" x2="401.5" y2="604.5"/>
<line x1="401.5" y1="617.5" x2="401.5" y2="643.5"/>
<line x1="423.5" y1="597" x2="423.5" y2="656.6"/>
<line x1="329.5" y1="293.2" x2="329.5" y2="311.7"/>
<line x1="329.5" y1="329.2" x2="329.5" y2="359.9"/>
<line x1="329.6" y1="359.9" x2="641" y2="540"/>
<line x1="369.5" y1="300.2" x2="369.5" y2="382.4"/>
<line x1="401.5" y1="316.5" x2="401.5" y2="337.1"/>
<line x1="401.5" y1="355.3" x2="401.5" y2="400.3"/>
<line x1="437.5" y1="343.7" x2="437.5" y2="421.7"/>
<line x1="470.5" y1="362.7" x2="470.5" y2="397.4"/>
<line x1="470.5" y1="413.5" x2="470.5" y2="441"/>
<line x1="485.5" y1="450" x2="485.5" y2="465"/>
<line x1="571.5" y1="435.5" x2="571.5" y2="460.8"/>
<line x1="571.5" y1="474" x2="571.5" y2="499.9"/>
<line x1="139.5" y1="436" x2="139.5" y2="492.4"/>
<line x1="139" y1="492.4" x2="423.3" y2="656.5"/>
<line x1="215.5" y1="390" x2="215.5" y2="446.4"/>
<line x1="215" y1="390" x2="300.4" y2="438.2"/>
<line x1="300.5" y1="438.2" x2="300.5" y2="491.4"/>
<line x1="257.5" y1="403" x2="257.5" y2="468"/>
</g>
<g class="l">
<rect x="675.5" y="630.5" width="372.0" height="84.0"/>
<line x1="675.5" y1="650.5" x2="1047.5" y2="650.5"/>
<line x1="750.5" y1="630.5" x2="750.5" y2="714.5"/>
<line x1="824.5" y1="630.5" x2="824.5" y2="714.5"/>
<line x1="898.5" y1="630.5" x2="898.5" y2="714.5"/>
<line x1="973.5" y1="630.5" x2="973.5" y2="714.5"/>
</g>
<g class="t" text-anchor="middle">
<text x="713.0" y="645">1123AK</text>
<text x="787.5" y="645">43493</text>
<text x="861.5" y="645">58914D</text>
<text x="936.0" y="645">58933B</text>
<text x="1010.5" y="645">43033</text>
</g>
<g class="t">
<text x="415.7" y="82.6">W3465B</text>
<text x="589.9" y="88.2">52131</text>
<text x="588.0" y="118.7">W3517B</text>
<text x="728.0" y="26.0">86758</text>
<text x="759.1" y="48.0">T17375</text>
<text x="644.4" y="74.3">59110F</text>
<text x="791.9" y="32.6">55841</text>
<text x="837.8" y="35.9">58781A</text>
<text x="898.8" y="54.0">58942B</text>
<text x="938.2" y="77.0">1120LS</text>
<text x="969.5" y="107.1">58797</text>
<text x="1010.2" y="126.9">95469</text>
<text x="673.3" y="99.1">P475BP</text>
<text x="757.7" y="115.7">52622</text>
<text x="691.0" y="156.3">55885</text>
<text x="846.0" y="130.9">58787A</text>
<text x="578.3" y="148.9">50067</text>
<text x="614.1" y="157.1">T10733</text>
<text x="651.0" y="171.3">52100</text>
<text x="741.4" y="164.3">43586</text>
<text x="716.9" y="177.5">43114</text>
<text x="780.5" y="200.3">49646</text>
<text x="815.6" y="180.3">41533</text>
<text x="853.9" y="216.3">52713</text>
<text x="831.1" y="234.9">51718</text>
<text x="990.9" y="207.2">58781A</text>
<text x="951.6" y="244.1">58181C</text>
<text x="995.4" y="263.6">58224</text>
<text x="930.9" y="284.5">W3258</text>
<text x="964.1" y="300.4">58179A</text>
<text x="835.7" y="274.6">52851A</text>
<text x="842.1" y="287.6">28177F</text>
<text x="311.7" y="324.0">51767</text>
<text x="385.0" y="350.8">52214</text>
<text x="566.3" y="342.3">52131D</text>
<text x="627.7" y="347.3">53053</text>
<text x="671.3" y="387.3">52213A</text>
<text x="32.5" y="347.1">5170AF</text>
<text x="9.3" y="408.5">T10319</text>
<text x="53.1" y="433.8">5130AK</text>
<text x="235.4" y="401.3">45612A</text>
<text x="484.2" y="365.4">52775</text>
<text x="484.9" y="379.1">T10060</text>
<text x="449.0" y="410.5">52720E</text>
<text x="497.0" y="442.8">T10076</text>
<text x="554.0" y="471.0">52711</text>
<text x="464.0" y="477.6">51751F</text>
<text x="618.2" y="487.3">BK1356</text>
<text x="657.4" y="511.4">51703</text>
<text x="328.4" y="491.5">53053</text>
<text x="357.7" y="483.0">53024</text>
<text x="379.7" y="513.8">52782</text>
<text x="423.9" y="539.7">53024</text>
<text x="460.8" y="566.5">52780</text>
<text x="528.4" y="576.3">57616</text>
<text x="499.3" y="586.6">X53141</text>
<text x="720.2" y="584.7">51761E</text>
<text x="789.7" y="591.3">90111</text>
<text x="259.2" y="597.2">52611B</text>
<text x="259.2" y="608.8">52612B</text>
<text x="352.2" y="600.0">45478A</text>
<text x="379.4" y="615.3">Z01158</text>
<text x="479.5" y="668.9">60316</text>
<text x="497.1" y="680.4">60317</text>
<text x="458.1" y="686.9">53086</text>
<text x="529.7" y="706.2">52788</text>
<text x="555.4" y="717.7">52157</text>
</g>
<text class="w" x="31" y="51.1">avtochast.ru</text>
<text class="w" x="471.5" y="371.8">avtochast.ru</text>
<text class="w" x="913.5" y="692">avtochast.ru</text>
</svg></body></html>
